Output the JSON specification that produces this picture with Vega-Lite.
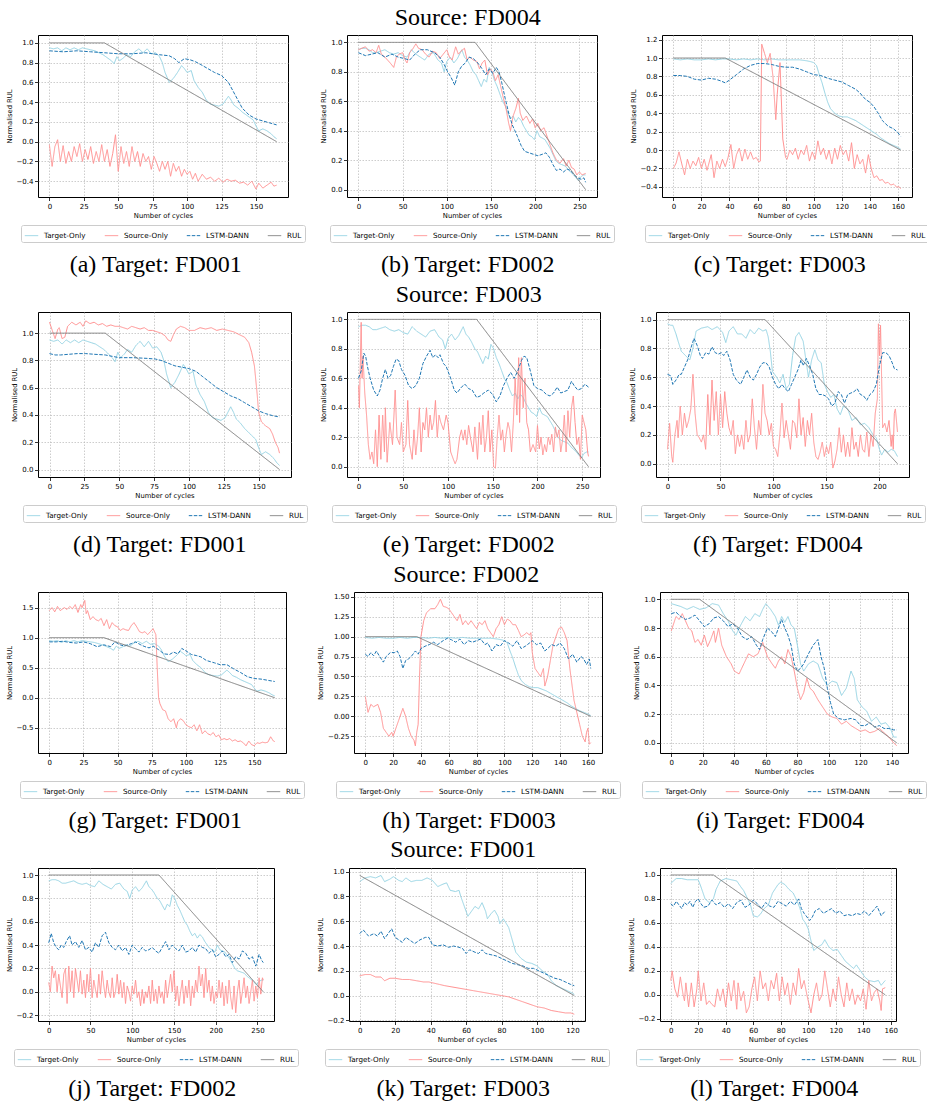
{
"$schema":"https://vega.github.io/schema/vega-lite/v6.json",
"background":"white",
"padding":5,
"config":{
"font":"DejaVu Sans",
"view":{"stroke":"#000000","strokeWidth":1},
"line":{"strokeWidth":1},
"axis":{"domain":false,"grid":true,"gridColor":"#b8b8b8","gridDash":[1.5,1.5],"gridWidth":0.7,"tickColor":"#000000","tickSize":3.5,"tickWidth":0.8,"labelFont":"DejaVu Sans","labelFontSize":7,"labelColor":"#000000","labelPadding":1.5,"labelOverlap":false,"labelFlush":false,"titleFont":"DejaVu Sans","titleFontSize":6.8,"titleFontWeight":"normal","titleColor":"#000000","titlePadding":3},
"axisY":{"titlePadding":4},
"legend":{"orient":"bottom","direction":"horizontal","symbolType":"stroke","symbolSize":180,"symbolStrokeWidth":1.2,"labelFont":"DejaVu Sans","labelFontSize":7.2,"labelColor":"#000000","columnPadding":16,"labelOffset":5,"padding":3,"strokeColor":"#cccccc","cornerRadius":2,"offset":6,"fillColor":"#ffffff","layout":{"bottom":{"anchor":"middle"}}},
"title":{"font":"Liberation Serif","fontSize":24,"fontWeight":"normal","color":"#000000","orient":"bottom","frame":"bounds","offset":10,"anchor":"middle"}
},
"datasets":{
"t1":[{"k":"a","x":0,"y":0.95},{"k":"a","x":3,"y":0.94},{"k":"a","x":6,"y":0.95},{"k":"a","x":9,"y":0.92},{"k":"a","x":12,"y":0.95},{"k":"a","x":15,"y":0.93},{"k":"a","x":18,"y":0.95},{"k":"a","x":21,"y":0.93},{"k":"a","x":24,"y":0.95},{"k":"a","x":27,"y":0.94},{"k":"a","x":30,"y":0.93},{"k":"a","x":33,"y":0.92},{"k":"a","x":36,"y":0.9},{"k":"a","x":39,"y":0.88},{"k":"a","x":42,"y":0.85},{"k":"a","x":45,"y":0.82},{"k":"a","x":47,"y":0.79},{"k":"a","x":49,"y":0.86},{"k":"a","x":51,"y":0.82},{"k":"a","x":54,"y":0.85},{"k":"a","x":56,"y":0.88},{"k":"a","x":59,"y":0.86},{"k":"a","x":62,"y":0.91},{"k":"a","x":65,"y":0.94},{"k":"a","x":68,"y":0.9},{"k":"a","x":71,"y":0.94},{"k":"a","x":74,"y":0.89},{"k":"a","x":77,"y":0.9},{"k":"a","x":80,"y":0.86},{"k":"a","x":82,"y":0.8},{"k":"a","x":84,"y":0.7},{"k":"a","x":87,"y":0.6},{"k":"a","x":90,"y":0.64},{"k":"a","x":93,"y":0.7},{"k":"a","x":96,"y":0.77},{"k":"a","x":98,"y":0.74},{"k":"a","x":100,"y":0.7},{"k":"a","x":103,"y":0.72},{"k":"a","x":105,"y":0.62},{"k":"a","x":108,"y":0.55},{"k":"a","x":111,"y":0.5},{"k":"a","x":114,"y":0.42},{"k":"a","x":117,"y":0.38},{"k":"a","x":120,"y":0.37},{"k":"a","x":123,"y":0.36},{"k":"a","x":126,"y":0.38},{"k":"a","x":128,"y":0.42},{"k":"a","x":130,"y":0.46},{"k":"a","x":132,"y":0.42},{"k":"a","x":134,"y":0.37},{"k":"a","x":137,"y":0.34},{"k":"a","x":140,"y":0.3},{"k":"a","x":143,"y":0.27},{"k":"a","x":146,"y":0.24},{"k":"a","x":148,"y":0.22},{"k":"a","x":150,"y":0.16},{"k":"a","x":152,"y":0.11},{"k":"a","x":155,"y":0.13},{"k":"a","x":158,"y":0.11},{"k":"a","x":161,"y":0.08},{"k":"a","x":163,"y":0.05},{"k":"a","x":165,"y":0.03}],
"t2":[{"k":"a","x":0,"y":0.95},{"k":"a","x":4,"y":0.96},{"k":"a","x":8,"y":0.96},{"k":"a","x":12,"y":0.95},{"k":"a","x":16,"y":0.93},{"k":"a","x":20,"y":0.93},{"k":"a","x":25,"y":0.94},{"k":"a","x":30,"y":0.95},{"k":"a","x":35,"y":0.93},{"k":"a","x":40,"y":0.92},{"k":"a","x":45,"y":0.93},{"k":"a","x":50,"y":0.91},{"k":"a","x":55,"y":0.9},{"k":"a","x":60,"y":0.95},{"k":"a","x":65,"y":0.92},{"k":"a","x":70,"y":0.9},{"k":"a","x":75,"y":0.88},{"k":"a","x":80,"y":0.92},{"k":"a","x":85,"y":0.93},{"k":"a","x":90,"y":0.88},{"k":"a","x":94,"y":0.86},{"k":"a","x":97,"y":0.8},{"k":"a","x":100,"y":0.87},{"k":"a","x":104,"y":0.9},{"k":"a","x":108,"y":0.86},{"k":"a","x":112,"y":0.89},{"k":"a","x":117,"y":0.95},{"k":"a","x":120,"y":0.9},{"k":"a","x":123,"y":0.88},{"k":"a","x":126,"y":0.85},{"k":"a","x":130,"y":0.8},{"k":"a","x":133,"y":0.78},{"k":"a","x":136,"y":0.74},{"k":"a","x":139,"y":0.7},{"k":"a","x":142,"y":0.75},{"k":"a","x":145,"y":0.73},{"k":"a","x":148,"y":0.83},{"k":"a","x":151,"y":0.8},{"k":"a","x":154,"y":0.74},{"k":"a","x":157,"y":0.7},{"k":"a","x":160,"y":0.65},{"k":"a","x":163,"y":0.6},{"k":"a","x":166,"y":0.57},{"k":"a","x":169,"y":0.52},{"k":"a","x":172,"y":0.48},{"k":"a","x":175,"y":0.5},{"k":"a","x":178,"y":0.46},{"k":"a","x":181,"y":0.49},{"k":"a","x":184,"y":0.47},{"k":"a","x":187,"y":0.43},{"k":"a","x":190,"y":0.4},{"k":"a","x":193,"y":0.37},{"k":"a","x":196,"y":0.36},{"k":"a","x":199,"y":0.34},{"k":"a","x":202,"y":0.4},{"k":"a","x":205,"y":0.36},{"k":"a","x":208,"y":0.35},{"k":"a","x":211,"y":0.34},{"k":"a","x":214,"y":0.31},{"k":"a","x":217,"y":0.28},{"k":"a","x":220,"y":0.24},{"k":"a","x":223,"y":0.2},{"k":"a","x":226,"y":0.18},{"k":"a","x":230,"y":0.17},{"k":"a","x":234,"y":0.16},{"k":"a","x":238,"y":0.13},{"k":"a","x":242,"y":0.11},{"k":"a","x":246,"y":0.08},{"k":"a","x":249,"y":0.06},{"k":"a","x":252,"y":0.09},{"k":"a","x":255,"y":0.1},{"k":"a","x":257,"y":0.1}],
"t3":[{"k":"a","x":0,"y":0.99},{"k":"a","x":5,"y":0.98},{"k":"a","x":10,"y":0.99},{"k":"a","x":15,"y":0.98},{"k":"a","x":20,"y":0.98},{"k":"a","x":25,"y":0.99},{"k":"a","x":30,"y":0.98},{"k":"a","x":35,"y":0.99},{"k":"a","x":40,"y":0.99},{"k":"a","x":45,"y":0.98},{"k":"a","x":50,"y":0.99},{"k":"a","x":55,"y":0.98},{"k":"a","x":60,"y":0.99},{"k":"a","x":65,"y":0.98},{"k":"a","x":70,"y":0.99},{"k":"a","x":75,"y":0.98},{"k":"a","x":80,"y":0.98},{"k":"a","x":85,"y":0.98},{"k":"a","x":90,"y":0.98},{"k":"a","x":95,"y":0.97},{"k":"a","x":98,"y":0.96},{"k":"a","x":100,"y":0.95},{"k":"a","x":102,"y":0.92},{"k":"a","x":104,"y":0.82},{"k":"a","x":106,"y":0.73},{"k":"a","x":108,"y":0.62},{"k":"a","x":110,"y":0.52},{"k":"a","x":112,"y":0.45},{"k":"a","x":115,"y":0.4},{"k":"a","x":118,"y":0.37},{"k":"a","x":121,"y":0.36},{"k":"a","x":124,"y":0.36},{"k":"a","x":127,"y":0.34},{"k":"a","x":130,"y":0.32},{"k":"a","x":133,"y":0.29},{"k":"a","x":136,"y":0.26},{"k":"a","x":139,"y":0.23},{"k":"a","x":142,"y":0.2},{"k":"a","x":145,"y":0.17},{"k":"a","x":148,"y":0.13},{"k":"a","x":151,"y":0.1},{"k":"a","x":154,"y":0.07},{"k":"a","x":157,"y":0.05},{"k":"a","x":160,"y":0.03},{"k":"a","x":162,"y":0.01}],
"pa":[{"k":"b","x":0,"y":-0.03},{"k":"b","x":2,"y":-0.25},{"k":"b","x":4,"y":-0.05},{"k":"b","x":6,"y":0.02},{"k":"b","x":8,"y":-0.2},{"k":"b","x":10,"y":-0.04},{"k":"b","x":12,"y":-0.22},{"k":"b","x":14,"y":-0.1},{"k":"b","x":16,"y":-0.2},{"k":"b","x":18,"y":-0.05},{"k":"b","x":20,"y":-0.15},{"k":"b","x":22,"y":-0.02},{"k":"b","x":24,"y":-0.2},{"k":"b","x":26,"y":-0.08},{"k":"b","x":28,"y":-0.18},{"k":"b","x":30,"y":-0.05},{"k":"b","x":32,"y":-0.22},{"k":"b","x":34,"y":-0.1},{"k":"b","x":36,"y":-0.2},{"k":"b","x":38,"y":-0.03},{"k":"b","x":40,"y":-0.2},{"k":"b","x":42,"y":-0.08},{"k":"b","x":44,"y":-0.25},{"k":"b","x":46,"y":-0.12},{"k":"b","x":48,"y":0.07},{"k":"b","x":50,"y":-0.3},{"k":"b","x":52,"y":-0.05},{"k":"b","x":54,"y":-0.22},{"k":"b","x":56,"y":-0.1},{"k":"b","x":58,"y":-0.25},{"k":"b","x":60,"y":-0.05},{"k":"b","x":62,"y":-0.2},{"k":"b","x":64,"y":-0.1},{"k":"b","x":66,"y":-0.25},{"k":"b","x":68,"y":-0.12},{"k":"b","x":70,"y":-0.2},{"k":"b","x":72,"y":-0.15},{"k":"b","x":74,"y":-0.28},{"k":"b","x":76,"y":-0.15},{"k":"b","x":78,"y":-0.22},{"k":"b","x":80,"y":-0.3},{"k":"b","x":82,"y":-0.2},{"k":"b","x":84,"y":-0.28},{"k":"b","x":86,"y":-0.2},{"k":"b","x":88,"y":-0.35},{"k":"b","x":90,"y":-0.22},{"k":"b","x":92,"y":-0.3},{"k":"b","x":94,"y":-0.25},{"k":"b","x":96,"y":-0.35},{"k":"b","x":98,"y":-0.28},{"k":"b","x":100,"y":-0.33},{"k":"b","x":102,"y":-0.3},{"k":"b","x":104,"y":-0.38},{"k":"b","x":106,"y":-0.32},{"k":"b","x":108,"y":-0.4},{"k":"b","x":111,"y":-0.33},{"k":"b","x":114,"y":-0.38},{"k":"b","x":117,"y":-0.36},{"k":"b","x":120,"y":-0.4},{"k":"b","x":123,"y":-0.37},{"k":"b","x":126,"y":-0.41},{"k":"b","x":129,"y":-0.38},{"k":"b","x":132,"y":-0.4},{"k":"b","x":135,"y":-0.39},{"k":"b","x":138,"y":-0.42},{"k":"b","x":141,"y":-0.41},{"k":"b","x":144,"y":-0.44},{"k":"b","x":147,"y":-0.4},{"k":"b","x":150,"y":-0.48},{"k":"b","x":152,"y":-0.42},{"k":"b","x":155,"y":-0.47},{"k":"b","x":158,"y":-0.44},{"k":"b","x":161,"y":-0.41},{"k":"b","x":163,"y":-0.45},{"k":"b","x":165,"y":-0.44},
{"k":"c","x":0,"y":0.92},{"k":"c","x":10,"y":0.91},{"k":"c","x":20,"y":0.92},{"k":"c","x":30,"y":0.91},{"k":"c","x":40,"y":0.9},{"k":"c","x":50,"y":0.89},{"k":"c","x":60,"y":0.89},{"k":"c","x":70,"y":0.9},{"k":"c","x":80,"y":0.88},{"k":"c","x":87,"y":0.87},{"k":"c","x":91,"y":0.84},{"k":"c","x":94,"y":0.8},{"k":"c","x":98,"y":0.84},{"k":"c","x":102,"y":0.83},{"k":"c","x":106,"y":0.81},{"k":"c","x":110,"y":0.78},{"k":"c","x":115,"y":0.74},{"k":"c","x":120,"y":0.7},{"k":"c","x":125,"y":0.67},{"k":"c","x":130,"y":0.6},{"k":"c","x":135,"y":0.47},{"k":"c","x":140,"y":0.34},{"k":"c","x":145,"y":0.27},{"k":"c","x":150,"y":0.23},{"k":"c","x":155,"y":0.21},{"k":"c","x":160,"y":0.19},{"k":"c","x":165,"y":0.17},
{"k":"d","x":0,"y":1},{"k":"d","x":40,"y":1},{"k":"d","x":165,"y":0}],
"pb":[{"k":"b","x":0,"y":0.95},{"k":"b","x":4,"y":0.96},{"k":"b","x":8,"y":0.97},{"k":"b","x":12,"y":0.94},{"k":"b","x":16,"y":0.95},{"k":"b","x":20,"y":0.93},{"k":"b","x":23,"y":0.98},{"k":"b","x":26,"y":0.92},{"k":"b","x":30,"y":0.9},{"k":"b","x":33,"y":0.88},{"k":"b","x":36,"y":0.86},{"k":"b","x":40,"y":0.83},{"k":"b","x":43,"y":0.9},{"k":"b","x":46,"y":0.92},{"k":"b","x":50,"y":0.93},{"k":"b","x":53,"y":0.88},{"k":"b","x":55,"y":0.86},{"k":"b","x":58,"y":0.93},{"k":"b","x":62,"y":0.96},{"k":"b","x":65,"y":0.99},{"k":"b","x":68,"y":0.96},{"k":"b","x":72,"y":0.95},{"k":"b","x":76,"y":0.92},{"k":"b","x":80,"y":0.9},{"k":"b","x":84,"y":0.94},{"k":"b","x":88,"y":0.93},{"k":"b","x":92,"y":0.89},{"k":"b","x":96,"y":0.92},{"k":"b","x":100,"y":0.95},{"k":"b","x":103,"y":0.9},{"k":"b","x":106,"y":0.88},{"k":"b","x":110,"y":0.97},{"k":"b","x":113,"y":0.92},{"k":"b","x":116,"y":0.94},{"k":"b","x":120,"y":0.96},{"k":"b","x":123,"y":0.88},{"k":"b","x":126,"y":0.9},{"k":"b","x":130,"y":0.88},{"k":"b","x":134,"y":0.87},{"k":"b","x":137,"y":0.82},{"k":"b","x":140,"y":0.86},{"k":"b","x":143,"y":0.88},{"k":"b","x":146,"y":0.78},{"k":"b","x":149,"y":0.82},{"k":"b","x":152,"y":0.8},{"k":"b","x":155,"y":0.74},{"k":"b","x":158,"y":0.78},{"k":"b","x":161,"y":0.7},{"k":"b","x":164,"y":0.62},{"k":"b","x":167,"y":0.55},{"k":"b","x":170,"y":0.45},{"k":"b","x":172,"y":0.4},{"k":"b","x":175,"y":0.5},{"k":"b","x":178,"y":0.55},{"k":"b","x":181,"y":0.62},{"k":"b","x":183,"y":0.52},{"k":"b","x":186,"y":0.47},{"k":"b","x":190,"y":0.5},{"k":"b","x":194,"y":0.45},{"k":"b","x":197,"y":0.48},{"k":"b","x":200,"y":0.42},{"k":"b","x":203,"y":0.45},{"k":"b","x":206,"y":0.4},{"k":"b","x":210,"y":0.42},{"k":"b","x":214,"y":0.35},{"k":"b","x":217,"y":0.3},{"k":"b","x":220,"y":0.25},{"k":"b","x":224,"y":0.2},{"k":"b","x":228,"y":0.18},{"k":"b","x":232,"y":0.21},{"k":"b","x":235,"y":0.16},{"k":"b","x":238,"y":0.2},{"k":"b","x":241,"y":0.15},{"k":"b","x":244,"y":0.14},{"k":"b","x":247,"y":0.1},{"k":"b","x":250,"y":0.12},{"k":"b","x":253,"y":0.1},{"k":"b","x":257,"y":0.11},
{"k":"c","x":0,"y":0.93},{"k":"c","x":8,"y":0.91},{"k":"c","x":15,"y":0.92},{"k":"c","x":22,"y":0.93},{"k":"c","x":30,"y":0.9},{"k":"c","x":38,"y":0.92},{"k":"c","x":45,"y":0.9},{"k":"c","x":52,"y":0.89},{"k":"c","x":58,"y":0.88},{"k":"c","x":64,"y":0.92},{"k":"c","x":70,"y":0.95},{"k":"c","x":78,"y":0.95},{"k":"c","x":86,"y":0.93},{"k":"c","x":92,"y":0.9},{"k":"c","x":97,"y":0.85},{"k":"c","x":101,"y":0.8},{"k":"c","x":105,"y":0.76},{"k":"c","x":109,"y":0.71},{"k":"c","x":113,"y":0.8},{"k":"c","x":117,"y":0.84},{"k":"c","x":121,"y":0.86},{"k":"c","x":125,"y":0.9},{"k":"c","x":130,"y":0.89},{"k":"c","x":135,"y":0.86},{"k":"c","x":140,"y":0.82},{"k":"c","x":144,"y":0.78},{"k":"c","x":148,"y":0.82},{"k":"c","x":152,"y":0.79},{"k":"c","x":156,"y":0.83},{"k":"c","x":159,"y":0.8},{"k":"c","x":162,"y":0.73},{"k":"c","x":166,"y":0.62},{"k":"c","x":170,"y":0.52},{"k":"c","x":174,"y":0.44},{"k":"c","x":177,"y":0.4},{"k":"c","x":180,"y":0.36},{"k":"c","x":184,"y":0.3},{"k":"c","x":188,"y":0.26},{"k":"c","x":193,"y":0.25},{"k":"c","x":198,"y":0.24},{"k":"c","x":203,"y":0.23},{"k":"c","x":208,"y":0.24},{"k":"c","x":212,"y":0.25},{"k":"c","x":216,"y":0.22},{"k":"c","x":220,"y":0.17},{"k":"c","x":224,"y":0.13},{"k":"c","x":228,"y":0.14},{"k":"c","x":232,"y":0.12},{"k":"c","x":236,"y":0.14},{"k":"c","x":240,"y":0.13},{"k":"c","x":244,"y":0.1},{"k":"c","x":248,"y":0.08},{"k":"c","x":252,"y":0.07},{"k":"c","x":255,"y":0.08},{"k":"c","x":257,"y":0.05},
{"k":"d","x":0,"y":1},{"k":"d","x":132,"y":1},{"k":"d","x":257,"y":0}],
"pc":[{"k":"b","x":0,"y":-0.2},{"k":"b","x":2,"y":-0.14},{"k":"b","x":4,"y":-0.02},{"k":"b","x":6,"y":-0.15},{"k":"b","x":8,"y":-0.27},{"k":"b","x":10,"y":-0.1},{"k":"b","x":12,"y":-0.2},{"k":"b","x":14,"y":-0.12},{"k":"b","x":16,"y":-0.17},{"k":"b","x":18,"y":-0.08},{"k":"b","x":20,"y":-0.2},{"k":"b","x":22,"y":-0.1},{"k":"b","x":24,"y":-0.22},{"k":"b","x":27,"y":-0.05},{"k":"b","x":29,"y":-0.3},{"k":"b","x":31,"y":-0.12},{"k":"b","x":33,"y":-0.2},{"k":"b","x":35,"y":-0.1},{"k":"b","x":37,"y":-0.18},{"k":"b","x":39,"y":-0.08},{"k":"b","x":41,"y":0.06},{"k":"b","x":43,"y":-0.2},{"k":"b","x":45,"y":-0.05},{"k":"b","x":47,"y":0.02},{"k":"b","x":49,"y":-0.12},{"k":"b","x":51,"y":0.01},{"k":"b","x":53,"y":-0.1},{"k":"b","x":55,"y":-0.02},{"k":"b","x":57,"y":-0.1},{"k":"b","x":59,"y":-0.08},{"k":"b","x":61,"y":-0.13},{"k":"b","x":62,"y":-0.12},{"k":"b","x":63,"y":1.15},{"k":"b","x":65,"y":1.05},{"k":"b","x":67,"y":0.95},{"k":"b","x":69,"y":1.05},{"k":"b","x":71,"y":0.8},{"k":"b","x":73,"y":0.33},{"k":"b","x":74,"y":0.6},{"k":"b","x":76,"y":0.95},{"k":"b","x":78,"y":0.12},{"k":"b","x":80,"y":-0.08},{"k":"b","x":81,"y":-0.1},{"k":"b","x":83,"y":0},{"k":"b","x":85,"y":-0.05},{"k":"b","x":87,"y":0.02},{"k":"b","x":89,"y":-0.1},{"k":"b","x":91,"y":0},{"k":"b","x":93,"y":-0.05},{"k":"b","x":95,"y":0.05},{"k":"b","x":97,"y":-0.12},{"k":"b","x":99,"y":-0.02},{"k":"b","x":101,"y":-0.1},{"k":"b","x":103,"y":0.1},{"k":"b","x":105,"y":-0.05},{"k":"b","x":107,"y":0.02},{"k":"b","x":109,"y":-0.1},{"k":"b","x":111,"y":0},{"k":"b","x":113,"y":-0.15},{"k":"b","x":115,"y":0.02},{"k":"b","x":117,"y":-0.1},{"k":"b","x":119,"y":0.05},{"k":"b","x":121,"y":-0.05},{"k":"b","x":123,"y":0},{"k":"b","x":125,"y":-0.12},{"k":"b","x":127,"y":0.08},{"k":"b","x":129,"y":-0.2},{"k":"b","x":131,"y":-0.05},{"k":"b","x":133,"y":-0.15},{"k":"b","x":135,"y":-0.1},{"k":"b","x":137,"y":-0.25},{"k":"b","x":139,"y":-0.05},{"k":"b","x":141,"y":-0.2},{"k":"b","x":143,"y":-0.3},{"k":"b","x":145,"y":-0.28},{"k":"b","x":147,"y":-0.33},{"k":"b","x":149,"y":-0.32},{"k":"b","x":151,"y":-0.36},{"k":"b","x":153,"y":-0.35},{"k":"b","x":155,"y":-0.38},{"k":"b","x":157,"y":-0.37},{"k":"b","x":159,"y":-0.4},{"k":"b","x":161,"y":-0.4},{"k":"b","x":162,"y":-0.42},
{"k":"c","x":0,"y":0.81},{"k":"c","x":5,"y":0.81},{"k":"c","x":10,"y":0.8},{"k":"c","x":15,"y":0.77},{"k":"c","x":20,"y":0.76},{"k":"c","x":25,"y":0.78},{"k":"c","x":30,"y":0.77},{"k":"c","x":34,"y":0.75},{"k":"c","x":37,"y":0.73},{"k":"c","x":40,"y":0.76},{"k":"c","x":45,"y":0.82},{"k":"c","x":50,"y":0.88},{"k":"c","x":55,"y":0.92},{"k":"c","x":60,"y":0.94},{"k":"c","x":65,"y":0.94},{"k":"c","x":70,"y":0.93},{"k":"c","x":75,"y":0.91},{"k":"c","x":80,"y":0.9},{"k":"c","x":85,"y":0.9},{"k":"c","x":90,"y":0.88},{"k":"c","x":95,"y":0.85},{"k":"c","x":100,"y":0.82},{"k":"c","x":105,"y":0.81},{"k":"c","x":110,"y":0.78},{"k":"c","x":115,"y":0.76},{"k":"c","x":120,"y":0.74},{"k":"c","x":125,"y":0.7},{"k":"c","x":130,"y":0.66},{"k":"c","x":133,"y":0.62},{"k":"c","x":137,"y":0.55},{"k":"c","x":140,"y":0.52},{"k":"c","x":143,"y":0.47},{"k":"c","x":146,"y":0.4},{"k":"c","x":149,"y":0.32},{"k":"c","x":153,"y":0.26},{"k":"c","x":157,"y":0.23},{"k":"c","x":160,"y":0.19},{"k":"c","x":162,"y":0.15},
{"k":"d","x":0,"y":1},{"k":"d","x":37,"y":1},{"k":"d","x":162,"y":0}],
"pd":[{"k":"b","x":0,"y":1.08},{"k":"b","x":2,"y":1.02},{"k":"b","x":4,"y":0.96},{"k":"b","x":6,"y":1.03},{"k":"b","x":7,"y":1.04},{"k":"b","x":9,"y":0.96},{"k":"b","x":11,"y":0.97},{"k":"b","x":13,"y":1.05},{"k":"b","x":16,"y":1.08},{"k":"b","x":19,"y":1.06},{"k":"b","x":22,"y":1.08},{"k":"b","x":24,"y":1.05},{"k":"b","x":26,"y":1.09},{"k":"b","x":29,"y":1.07},{"k":"b","x":32,"y":1.08},{"k":"b","x":35,"y":1.06},{"k":"b","x":38,"y":1.07},{"k":"b","x":41,"y":1.05},{"k":"b","x":44,"y":1.06},{"k":"b","x":47,"y":1.05},{"k":"b","x":50,"y":1.05},{"k":"b","x":53,"y":1.04},{"k":"b","x":56,"y":1.03},{"k":"b","x":59,"y":1.05},{"k":"b","x":62,"y":1.04},{"k":"b","x":65,"y":1.03},{"k":"b","x":68,"y":1.04},{"k":"b","x":71,"y":1.02},{"k":"b","x":74,"y":1.02},{"k":"b","x":77,"y":1.01},{"k":"b","x":80,"y":1},{"k":"b","x":83,"y":0.98},{"k":"b","x":85,"y":0.95},{"k":"b","x":87,"y":0.94},{"k":"b","x":89,"y":0.99},{"k":"b","x":91,"y":1.03},{"k":"b","x":94,"y":1.05},{"k":"b","x":97,"y":1.04},{"k":"b","x":100,"y":1.02},{"k":"b","x":104,"y":1.02},{"k":"b","x":108,"y":1.04},{"k":"b","x":112,"y":1.03},{"k":"b","x":116,"y":1.04},{"k":"b","x":120,"y":1.02},{"k":"b","x":124,"y":1.03},{"k":"b","x":128,"y":1.02},{"k":"b","x":132,"y":1.01},{"k":"b","x":136,"y":0.99},{"k":"b","x":140,"y":0.97},{"k":"b","x":143,"y":0.93},{"k":"b","x":145,"y":0.86},{"k":"b","x":147,"y":0.76},{"k":"b","x":149,"y":0.55},{"k":"b","x":150,"y":0.42},{"k":"b","x":152,"y":0.35},{"k":"b","x":155,"y":0.32},{"k":"b","x":158,"y":0.3},{"k":"b","x":160,"y":0.26},{"k":"b","x":162,"y":0.2},{"k":"b","x":164,"y":0.16},{"k":"b","x":165,"y":0.12},
{"k":"c","x":0,"y":0.85},{"k":"c","x":4,"y":0.84},{"k":"c","x":8,"y":0.84},{"k":"c","x":14,"y":0.845},{"k":"c","x":20,"y":0.85},{"k":"c","x":26,"y":0.85},{"k":"c","x":32,"y":0.845},{"k":"c","x":40,"y":0.84},{"k":"c","x":45,"y":0.83},{"k":"c","x":50,"y":0.82},{"k":"c","x":60,"y":0.82},{"k":"c","x":70,"y":0.815},{"k":"c","x":76,"y":0.81},{"k":"c","x":80,"y":0.8},{"k":"c","x":85,"y":0.78},{"k":"c","x":90,"y":0.76},{"k":"c","x":95,"y":0.75},{"k":"c","x":100,"y":0.74},{"k":"c","x":105,"y":0.72},{"k":"c","x":110,"y":0.68},{"k":"c","x":115,"y":0.64},{"k":"c","x":120,"y":0.6},{"k":"c","x":125,"y":0.57},{"k":"c","x":130,"y":0.54},{"k":"c","x":135,"y":0.52},{"k":"c","x":140,"y":0.49},{"k":"c","x":145,"y":0.46},{"k":"c","x":150,"y":0.43},{"k":"c","x":155,"y":0.41},{"k":"c","x":160,"y":0.395},{"k":"c","x":165,"y":0.385},
{"k":"d","x":0,"y":1},{"k":"d","x":40,"y":1},{"k":"d","x":165,"y":0}],
"pe":[{"k":"b","x":0,"y":0.55},{"k":"b","x":1,"y":0.4},{"k":"b","x":3,"y":0.98},{"k":"b","x":4,"y":0.6},{"k":"b","x":5,"y":0.75},{"k":"b","x":7,"y":0.5},{"k":"b","x":9,"y":0.35},{"k":"b","x":11,"y":0.15},{"k":"b","x":13,"y":0.05},{"k":"b","x":15,"y":0.1},{"k":"b","x":17,"y":0.02},{"k":"b","x":19,"y":0.25},{"k":"b","x":21,"y":0},{"k":"b","x":23,"y":0.35},{"k":"b","x":25,"y":0.05},{"k":"b","x":27,"y":0.35},{"k":"b","x":29,"y":0.1},{"k":"b","x":30,"y":0.4},{"k":"b","x":32,"y":0.03},{"k":"b","x":35,"y":0.3},{"k":"b","x":38,"y":0.15},{"k":"b","x":41,"y":0.52},{"k":"b","x":43,"y":0.2},{"k":"b","x":46,"y":0.15},{"k":"b","x":48,"y":0.3},{"k":"b","x":50,"y":0.1},{"k":"b","x":53,"y":0.15},{"k":"b","x":55,"y":0.45},{"k":"b","x":57,"y":0.15},{"k":"b","x":60,"y":0.05},{"k":"b","x":62,"y":0.25},{"k":"b","x":64,"y":0.08},{"k":"b","x":66,"y":0.2},{"k":"b","x":68,"y":0.4},{"k":"b","x":70,"y":0.1},{"k":"b","x":72,"y":0.3},{"k":"b","x":74,"y":0.25},{"k":"b","x":76,"y":0.4},{"k":"b","x":78,"y":0.2},{"k":"b","x":80,"y":0.35},{"k":"b","x":82,"y":0.25},{"k":"b","x":84,"y":0.3},{"k":"b","x":86,"y":0.45},{"k":"b","x":88,"y":0.2},{"k":"b","x":90,"y":0.35},{"k":"b","x":92,"y":0.3},{"k":"b","x":95,"y":0.25},{"k":"b","x":98,"y":0.35},{"k":"b","x":100,"y":0.3},{"k":"b","x":103,"y":0.1},{"k":"b","x":106,"y":0.05},{"k":"b","x":108,"y":0.02},{"k":"b","x":110,"y":0.05},{"k":"b","x":113,"y":0.2},{"k":"b","x":115,"y":0.25},{"k":"b","x":117,"y":0.18},{"k":"b","x":119,"y":0.25},{"k":"b","x":121,"y":0.15},{"k":"b","x":123,"y":0.28},{"k":"b","x":125,"y":0.2},{"k":"b","x":128,"y":0.1},{"k":"b","x":130,"y":0.27},{"k":"b","x":133,"y":0.05},{"k":"b","x":135,"y":0.3},{"k":"b","x":137,"y":0.15},{"k":"b","x":139,"y":0.35},{"k":"b","x":141,"y":0.1},{"k":"b","x":143,"y":0.2},{"k":"b","x":145,"y":0.38},{"k":"b","x":147,"y":0.1},{"k":"b","x":149,"y":0.25},{"k":"b","x":151,"y":0},{"k":"b","x":153,"y":-0.01},{"k":"b","x":155,"y":0.2},{"k":"b","x":157,"y":0.35},{"k":"b","x":159,"y":0.18},{"k":"b","x":161,"y":0.25},{"k":"b","x":163,"y":0.1},{"k":"b","x":165,"y":0.22},{"k":"b","x":167,"y":0.3},{"k":"b","x":169,"y":0.25},{"k":"b","x":171,"y":0.1},{"k":"b","x":173,"y":0.3},{"k":"b","x":175,"y":0.6},{"k":"b","x":177,"y":0.35},{"k":"b","x":179,"y":0.74},{"k":"b","x":180,"y":0.3},{"k":"b","x":182,"y":0.74},{"k":"b","x":184,"y":0.4},{"k":"b","x":186,"y":0.6},{"k":"b","x":188,"y":0.3},{"k":"b","x":190,"y":0.25},{"k":"b","x":192,"y":0.1},{"k":"b","x":195,"y":0.15},{"k":"b","x":198,"y":0.1},{"k":"b","x":200,"y":0.28},{"k":"b","x":202,"y":0.12},{"k":"b","x":204,"y":0.2},{"k":"b","x":206,"y":0.08},{"k":"b","x":208,"y":0.15},{"k":"b","x":210,"y":0.1},{"k":"b","x":212,"y":0.2},{"k":"b","x":214,"y":0.15},{"k":"b","x":216,"y":0.22},{"k":"b","x":218,"y":0.1},{"k":"b","x":220,"y":0.27},{"k":"b","x":222,"y":0.2},{"k":"b","x":224,"y":0.25},{"k":"b","x":226,"y":0.1},{"k":"b","x":228,"y":0.18},{"k":"b","x":230,"y":0.35},{"k":"b","x":232,"y":0.1},{"k":"b","x":234,"y":0.38},{"k":"b","x":236,"y":0.2},{"k":"b","x":238,"y":0.4},{"k":"b","x":240,"y":0.48},{"k":"b","x":242,"y":0.3},{"k":"b","x":244,"y":0.15},{"k":"b","x":246,"y":0.2},{"k":"b","x":248,"y":0.05},{"k":"b","x":250,"y":0.35},{"k":"b","x":252,"y":0.3},{"k":"b","x":254,"y":0.25},{"k":"b","x":256,"y":0.1},{"k":"b","x":257,"y":0.07},
{"k":"c","x":0,"y":0.6},{"k":"c","x":3,"y":0.65},{"k":"c","x":6,"y":0.77},{"k":"c","x":8,"y":0.75},{"k":"c","x":10,"y":0.68},{"k":"c","x":13,"y":0.6},{"k":"c","x":17,"y":0.52},{"k":"c","x":21,"y":0.48},{"k":"c","x":24,"y":0.52},{"k":"c","x":27,"y":0.6},{"k":"c","x":30,"y":0.66},{"k":"c","x":33,"y":0.6},{"k":"c","x":36,"y":0.62},{"k":"c","x":39,"y":0.68},{"k":"c","x":42,"y":0.73},{"k":"c","x":45,"y":0.72},{"k":"c","x":48,"y":0.66},{"k":"c","x":52,"y":0.62},{"k":"c","x":56,"y":0.55},{"k":"c","x":60,"y":0.53},{"k":"c","x":64,"y":0.55},{"k":"c","x":68,"y":0.6},{"k":"c","x":72,"y":0.7},{"k":"c","x":76,"y":0.75},{"k":"c","x":80,"y":0.79},{"k":"c","x":83,"y":0.74},{"k":"c","x":86,"y":0.76},{"k":"c","x":89,"y":0.74},{"k":"c","x":91,"y":0.76},{"k":"c","x":95,"y":0.7},{"k":"c","x":98,"y":0.68},{"k":"c","x":103,"y":0.6},{"k":"c","x":107,"y":0.52},{"k":"c","x":110,"y":0.5},{"k":"c","x":115,"y":0.54},{"k":"c","x":119,"y":0.56},{"k":"c","x":123,"y":0.53},{"k":"c","x":127,"y":0.52},{"k":"c","x":132,"y":0.47},{"k":"c","x":136,"y":0.48},{"k":"c","x":140,"y":0.5},{"k":"c","x":145,"y":0.52},{"k":"c","x":150,"y":0.49},{"k":"c","x":154,"y":0.44},{"k":"c","x":158,"y":0.48},{"k":"c","x":162,"y":0.55},{"k":"c","x":166,"y":0.6},{"k":"c","x":170,"y":0.64},{"k":"c","x":174,"y":0.6},{"k":"c","x":178,"y":0.65},{"k":"c","x":182,"y":0.72},{"k":"c","x":185,"y":0.75},{"k":"c","x":188,"y":0.74},{"k":"c","x":192,"y":0.65},{"k":"c","x":196,"y":0.55},{"k":"c","x":200,"y":0.53},{"k":"c","x":205,"y":0.52},{"k":"c","x":210,"y":0.49},{"k":"c","x":214,"y":0.48},{"k":"c","x":218,"y":0.5},{"k":"c","x":222,"y":0.54},{"k":"c","x":226,"y":0.5},{"k":"c","x":230,"y":0.51},{"k":"c","x":234,"y":0.52},{"k":"c","x":238,"y":0.58},{"k":"c","x":241,"y":0.55},{"k":"c","x":245,"y":0.52},{"k":"c","x":249,"y":0.53},{"k":"c","x":253,"y":0.56},{"k":"c","x":257,"y":0.54},
{"k":"d","x":0,"y":1},{"k":"d","x":132,"y":1},{"k":"d","x":257,"y":0}],
"pf":[{"k":"a","x":0,"y":0.97},{"k":"a","x":3,"y":0.96},{"k":"a","x":5,"y":0.96},{"k":"a","x":8,"y":0.9},{"k":"a","x":10,"y":0.85},{"k":"a","x":13,"y":0.78},{"k":"a","x":17,"y":0.75},{"k":"a","x":21,"y":0.72},{"k":"a","x":24,"y":0.8},{"k":"a","x":27,"y":0.92},{"k":"a","x":32,"y":0.94},{"k":"a","x":38,"y":0.95},{"k":"a","x":42,"y":0.93},{"k":"a","x":47,"y":0.95},{"k":"a","x":52,"y":0.91},{"k":"a","x":55,"y":0.84},{"k":"a","x":58,"y":0.92},{"k":"a","x":62,"y":0.95},{"k":"a","x":66,"y":0.9},{"k":"a","x":70,"y":0.9},{"k":"a","x":74,"y":0.87},{"k":"a","x":78,"y":0.93},{"k":"a","x":82,"y":0.9},{"k":"a","x":86,"y":0.94},{"k":"a","x":90,"y":0.92},{"k":"a","x":93,"y":0.93},{"k":"a","x":95,"y":0.88},{"k":"a","x":97,"y":0.78},{"k":"a","x":99,"y":0.64},{"k":"a","x":103,"y":0.6},{"k":"a","x":106,"y":0.56},{"k":"a","x":109,"y":0.62},{"k":"a","x":112,"y":0.52},{"k":"a","x":115,"y":0.55},{"k":"a","x":118,"y":0.75},{"k":"a","x":121,"y":0.88},{"k":"a","x":124,"y":0.91},{"k":"a","x":128,"y":0.85},{"k":"a","x":131,"y":0.7},{"k":"a","x":133,"y":0.6},{"k":"a","x":136,"y":0.72},{"k":"a","x":139,"y":0.79},{"k":"a","x":142,"y":0.72},{"k":"a","x":145,"y":0.7},{"k":"a","x":148,"y":0.55},{"k":"a","x":151,"y":0.5},{"k":"a","x":154,"y":0.46},{"k":"a","x":157,"y":0.48},{"k":"a","x":160,"y":0.38},{"k":"a","x":163,"y":0.34},{"k":"a","x":166,"y":0.4},{"k":"a","x":170,"y":0.38},{"k":"a","x":174,"y":0.3},{"k":"a","x":178,"y":0.32},{"k":"a","x":182,"y":0.27},{"k":"a","x":186,"y":0.28},{"k":"a","x":190,"y":0.25},{"k":"a","x":194,"y":0.2},{"k":"a","x":197,"y":0.18},{"k":"a","x":200,"y":0.1},{"k":"a","x":202,"y":0.06},{"k":"a","x":205,"y":0.1},{"k":"a","x":208,"y":0.08},{"k":"a","x":211,"y":0.1},{"k":"a","x":214,"y":0.09},{"k":"a","x":217,"y":0.05},
{"k":"b","x":0,"y":0.1},{"k":"b","x":2,"y":0.28},{"k":"b","x":4,"y":0.05},{"k":"b","x":5,"y":0.01},{"k":"b","x":7,"y":0.2},{"k":"b","x":9,"y":0.3},{"k":"b","x":10,"y":0.18},{"k":"b","x":12,"y":0.4},{"k":"b","x":14,"y":0.2},{"k":"b","x":16,"y":0.35},{"k":"b","x":18,"y":0.25},{"k":"b","x":20,"y":0.3},{"k":"b","x":22,"y":0.38},{"k":"b","x":24,"y":0.62},{"k":"b","x":26,"y":0.35},{"k":"b","x":28,"y":0.2},{"k":"b","x":30,"y":0.18},{"k":"b","x":32,"y":0.15},{"k":"b","x":34,"y":0.2},{"k":"b","x":36,"y":0.1},{"k":"b","x":38,"y":0.48},{"k":"b","x":40,"y":0.2},{"k":"b","x":42,"y":0.58},{"k":"b","x":44,"y":0.3},{"k":"b","x":46,"y":0.5},{"k":"b","x":48,"y":0.2},{"k":"b","x":50,"y":0.48},{"k":"b","x":52,"y":0.25},{"k":"b","x":54,"y":0.5},{"k":"b","x":56,"y":0.35},{"k":"b","x":58,"y":0.25},{"k":"b","x":60,"y":0.2},{"k":"b","x":62,"y":0.3},{"k":"b","x":64,"y":0.07},{"k":"b","x":66,"y":0.2},{"k":"b","x":68,"y":0.12},{"k":"b","x":70,"y":0.2},{"k":"b","x":72,"y":0.1},{"k":"b","x":74,"y":0.3},{"k":"b","x":76,"y":0.15},{"k":"b","x":78,"y":0.2},{"k":"b","x":80,"y":0.45},{"k":"b","x":82,"y":0.25},{"k":"b","x":84,"y":0.1},{"k":"b","x":86,"y":0.3},{"k":"b","x":88,"y":0.2},{"k":"b","x":90,"y":0.55},{"k":"b","x":92,"y":0.35},{"k":"b","x":94,"y":0.3},{"k":"b","x":96,"y":0.2},{"k":"b","x":98,"y":0.28},{"k":"b","x":100,"y":0.12},{"k":"b","x":102,"y":0.1},{"k":"b","x":104,"y":0.05},{"k":"b","x":106,"y":0.2},{"k":"b","x":108,"y":0.42},{"k":"b","x":110,"y":0.18},{"k":"b","x":112,"y":0.3},{"k":"b","x":114,"y":0.2},{"k":"b","x":116,"y":0.1},{"k":"b","x":118,"y":0.3},{"k":"b","x":120,"y":0.28},{"k":"b","x":122,"y":0.18},{"k":"b","x":124,"y":0.45},{"k":"b","x":126,"y":0.2},{"k":"b","x":128,"y":0.32},{"k":"b","x":130,"y":0.12},{"k":"b","x":132,"y":0.3},{"k":"b","x":134,"y":0.2},{"k":"b","x":136,"y":0.35},{"k":"b","x":138,"y":0.15},{"k":"b","x":140,"y":0.05},{"k":"b","x":142,"y":0.03},{"k":"b","x":144,"y":0.08},{"k":"b","x":146,"y":0.15},{"k":"b","x":148,"y":0.05},{"k":"b","x":150,"y":0.12},{"k":"b","x":152,"y":0.07},{"k":"b","x":154,"y":0.15},{"k":"b","x":156,"y":-0.03},{"k":"b","x":158,"y":0.02},{"k":"b","x":160,"y":0.1},{"k":"b","x":162,"y":0.25},{"k":"b","x":164,"y":0.08},{"k":"b","x":166,"y":0.2},{"k":"b","x":168,"y":0.05},{"k":"b","x":170,"y":0.15},{"k":"b","x":172,"y":0.05},{"k":"b","x":174,"y":0.25},{"k":"b","x":176,"y":0.1},{"k":"b","x":178,"y":0.15},{"k":"b","x":180,"y":0.05},{"k":"b","x":182,"y":0.2},{"k":"b","x":184,"y":0.1},{"k":"b","x":186,"y":0.08},{"k":"b","x":188,"y":0.22},{"k":"b","x":190,"y":0.05},{"k":"b","x":192,"y":0.2},{"k":"b","x":194,"y":0.12},{"k":"b","x":196,"y":0.35},{"k":"b","x":198,"y":0.45},{"k":"b","x":199,"y":0.97},{"k":"b","x":200,"y":0.75},{"k":"b","x":201,"y":0.96},{"k":"b","x":202,"y":0.6},{"k":"b","x":203,"y":0.25},{"k":"b","x":205,"y":0.28},{"k":"b","x":207,"y":0.22},{"k":"b","x":209,"y":0.3},{"k":"b","x":211,"y":0.12},{"k":"b","x":212,"y":0.2},{"k":"b","x":213,"y":0.1},{"k":"b","x":214,"y":0.35},{"k":"b","x":215,"y":0.38},{"k":"b","x":217,"y":0.22},
{"k":"c","x":0,"y":0.62},{"k":"c","x":3,"y":0.61},{"k":"c","x":5,"y":0.55},{"k":"c","x":8,"y":0.58},{"k":"c","x":11,"y":0.62},{"k":"c","x":13,"y":0.62},{"k":"c","x":16,"y":0.67},{"k":"c","x":19,"y":0.72},{"k":"c","x":22,"y":0.8},{"k":"c","x":25,"y":0.87},{"k":"c","x":28,"y":0.82},{"k":"c","x":31,"y":0.75},{"k":"c","x":33,"y":0.73},{"k":"c","x":36,"y":0.77},{"k":"c","x":39,"y":0.76},{"k":"c","x":42,"y":0.81},{"k":"c","x":45,"y":0.77},{"k":"c","x":48,"y":0.76},{"k":"c","x":51,"y":0.77},{"k":"c","x":53,"y":0.75},{"k":"c","x":56,"y":0.78},{"k":"c","x":59,"y":0.72},{"k":"c","x":62,"y":0.62},{"k":"c","x":65,"y":0.58},{"k":"c","x":69,"y":0.55},{"k":"c","x":72,"y":0.6},{"k":"c","x":75,"y":0.65},{"k":"c","x":78,"y":0.6},{"k":"c","x":81,"y":0.58},{"k":"c","x":84,"y":0.62},{"k":"c","x":87,"y":0.67},{"k":"c","x":90,"y":0.7},{"k":"c","x":93,"y":0.7},{"k":"c","x":96,"y":0.67},{"k":"c","x":99,"y":0.6},{"k":"c","x":102,"y":0.55},{"k":"c","x":105,"y":0.52},{"k":"c","x":108,"y":0.55},{"k":"c","x":111,"y":0.52},{"k":"c","x":114,"y":0.5},{"k":"c","x":117,"y":0.55},{"k":"c","x":120,"y":0.6},{"k":"c","x":123,"y":0.65},{"k":"c","x":126,"y":0.72},{"k":"c","x":128,"y":0.68},{"k":"c","x":131,"y":0.73},{"k":"c","x":134,"y":0.68},{"k":"c","x":137,"y":0.62},{"k":"c","x":140,"y":0.52},{"k":"c","x":143,"y":0.48},{"k":"c","x":146,"y":0.48},{"k":"c","x":149,"y":0.47},{"k":"c","x":152,"y":0.45},{"k":"c","x":155,"y":0.4},{"k":"c","x":158,"y":0.42},{"k":"c","x":161,"y":0.5},{"k":"c","x":164,"y":0.48},{"k":"c","x":167,"y":0.42},{"k":"c","x":170,"y":0.48},{"k":"c","x":173,"y":0.49},{"k":"c","x":176,"y":0.5},{"k":"c","x":179,"y":0.52},{"k":"c","x":182,"y":0.48},{"k":"c","x":185,"y":0.47},{"k":"c","x":188,"y":0.44},{"k":"c","x":191,"y":0.48},{"k":"c","x":194,"y":0.5},{"k":"c","x":197,"y":0.55},{"k":"c","x":200,"y":0.68},{"k":"c","x":203,"y":0.77},{"k":"c","x":206,"y":0.77},{"k":"c","x":209,"y":0.75},{"k":"c","x":212,"y":0.7},{"k":"c","x":214,"y":0.66},{"k":"c","x":217,"y":0.65},
{"k":"d","x":0,"y":1},{"k":"d","x":92,"y":1},{"k":"d","x":217,"y":0}],
"pg":[{"k":"b","x":0,"y":1.45},{"k":"b","x":2,"y":1.5},{"k":"b","x":4,"y":1.43},{"k":"b","x":6,"y":1.52},{"k":"b","x":8,"y":1.45},{"k":"b","x":11,"y":1.5},{"k":"b","x":13,"y":1.47},{"k":"b","x":15,"y":1.52},{"k":"b","x":17,"y":1.48},{"k":"b","x":19,"y":1.55},{"k":"b","x":21,"y":1.42},{"k":"b","x":23,"y":1.55},{"k":"b","x":24,"y":1.5},{"k":"b","x":26,"y":1.62},{"k":"b","x":27,"y":1.4},{"k":"b","x":28,"y":1.45},{"k":"b","x":30,"y":1.3},{"k":"b","x":32,"y":1.35},{"k":"b","x":34,"y":1.3},{"k":"b","x":36,"y":1.28},{"k":"b","x":38,"y":1.32},{"k":"b","x":40,"y":1.2},{"k":"b","x":42,"y":1.3},{"k":"b","x":44,"y":1.15},{"k":"b","x":46,"y":1.25},{"k":"b","x":48,"y":1.2},{"k":"b","x":50,"y":1.18},{"k":"b","x":52,"y":1.12},{"k":"b","x":54,"y":1.15},{"k":"b","x":56,"y":1.13},{"k":"b","x":58,"y":1.12},{"k":"b","x":60,"y":1.2},{"k":"b","x":62,"y":1.25},{"k":"b","x":64,"y":1.18},{"k":"b","x":66,"y":1.1},{"k":"b","x":68,"y":1.08},{"k":"b","x":70,"y":1.1},{"k":"b","x":72,"y":1.05},{"k":"b","x":74,"y":1.1},{"k":"b","x":76,"y":1.15},{"k":"b","x":78,"y":1.05},{"k":"b","x":79,"y":0.5},{"k":"b","x":80,"y":0},{"k":"b","x":81,"y":-0.1},{"k":"b","x":83,"y":-0.2},{"k":"b","x":85,"y":-0.22},{"k":"b","x":87,"y":-0.35},{"k":"b","x":89,"y":-0.4},{"k":"b","x":91,"y":-0.35},{"k":"b","x":93,"y":-0.5},{"k":"b","x":94,"y":-0.4},{"k":"b","x":96,"y":-0.35},{"k":"b","x":98,"y":-0.38},{"k":"b","x":100,"y":-0.45},{"k":"b","x":102,"y":-0.48},{"k":"b","x":104,"y":-0.5},{"k":"b","x":106,"y":-0.45},{"k":"b","x":108,"y":-0.55},{"k":"b","x":110,"y":-0.45},{"k":"b","x":112,"y":-0.6},{"k":"b","x":114,"y":-0.55},{"k":"b","x":116,"y":-0.6},{"k":"b","x":118,"y":-0.62},{"k":"b","x":120,"y":-0.58},{"k":"b","x":122,"y":-0.65},{"k":"b","x":124,"y":-0.62},{"k":"b","x":126,"y":-0.7},{"k":"b","x":128,"y":-0.68},{"k":"b","x":130,"y":-0.7},{"k":"b","x":132,"y":-0.68},{"k":"b","x":134,"y":-0.72},{"k":"b","x":136,"y":-0.7},{"k":"b","x":138,"y":-0.73},{"k":"b","x":140,"y":-0.72},{"k":"b","x":142,"y":-0.75},{"k":"b","x":144,"y":-0.8},{"k":"b","x":146,"y":-0.72},{"k":"b","x":148,"y":-0.78},{"k":"b","x":150,"y":-0.8},{"k":"b","x":152,"y":-0.75},{"k":"b","x":154,"y":-0.76},{"k":"b","x":156,"y":-0.74},{"k":"b","x":158,"y":-0.75},{"k":"b","x":160,"y":-0.74},{"k":"b","x":162,"y":-0.65},{"k":"b","x":164,"y":-0.72},{"k":"b","x":165,"y":-0.73},
{"k":"c","x":0,"y":0.93},{"k":"c","x":5,"y":0.93},{"k":"c","x":10,"y":0.94},{"k":"c","x":15,"y":0.92},{"k":"c","x":20,"y":0.91},{"k":"c","x":25,"y":0.93},{"k":"c","x":30,"y":0.9},{"k":"c","x":35,"y":0.85},{"k":"c","x":40,"y":0.88},{"k":"c","x":45,"y":0.85},{"k":"c","x":48,"y":0.93},{"k":"c","x":52,"y":0.88},{"k":"c","x":55,"y":0.86},{"k":"c","x":60,"y":0.9},{"k":"c","x":63,"y":0.93},{"k":"c","x":67,"y":0.88},{"k":"c","x":70,"y":0.85},{"k":"c","x":73,"y":0.83},{"k":"c","x":76,"y":0.86},{"k":"c","x":80,"y":0.8},{"k":"c","x":84,"y":0.73},{"k":"c","x":88,"y":0.72},{"k":"c","x":91,"y":0.76},{"k":"c","x":94,"y":0.73},{"k":"c","x":97,"y":0.82},{"k":"c","x":100,"y":0.78},{"k":"c","x":104,"y":0.72},{"k":"c","x":108,"y":0.7},{"k":"c","x":111,"y":0.68},{"k":"c","x":115,"y":0.62},{"k":"c","x":118,"y":0.6},{"k":"c","x":121,"y":0.58},{"k":"c","x":125,"y":0.55},{"k":"c","x":130,"y":0.55},{"k":"c","x":135,"y":0.48},{"k":"c","x":140,"y":0.42},{"k":"c","x":145,"y":0.35},{"k":"c","x":150,"y":0.32},{"k":"c","x":155,"y":0.31},{"k":"c","x":160,"y":0.29},{"k":"c","x":165,"y":0.27},
{"k":"d","x":0,"y":1},{"k":"d","x":40,"y":1},{"k":"d","x":165,"y":0}],
"ph":[{"k":"b","x":0,"y":0.25},{"k":"b","x":2,"y":0.05},{"k":"b","x":4,"y":0.15},{"k":"b","x":6,"y":0.12},{"k":"b","x":9,"y":0.15},{"k":"b","x":11,"y":0.05},{"k":"b","x":13,"y":-0.15},{"k":"b","x":15,"y":-0.2},{"k":"b","x":17,"y":-0.25},{"k":"b","x":19,"y":-0.2},{"k":"b","x":20,"y":-0.25},{"k":"b","x":22,"y":-0.15},{"k":"b","x":24,"y":-0.05},{"k":"b","x":26,"y":0.05},{"k":"b","x":27,"y":0.1},{"k":"b","x":29,"y":0},{"k":"b","x":31,"y":-0.15},{"k":"b","x":33,"y":-0.25},{"k":"b","x":35,"y":-0.3},{"k":"b","x":36,"y":-0.37},{"k":"b","x":37,"y":-0.2},{"k":"b","x":38,"y":-0.1},{"k":"b","x":39,"y":0.5},{"k":"b","x":40,"y":1},{"k":"b","x":42,"y":1.2},{"k":"b","x":44,"y":1.3},{"k":"b","x":47,"y":1.35},{"k":"b","x":50,"y":1.35},{"k":"b","x":52,"y":1.4},{"k":"b","x":54,"y":1.47},{"k":"b","x":56,"y":1.38},{"k":"b","x":58,"y":1.37},{"k":"b","x":60,"y":1.35},{"k":"b","x":62,"y":1.3},{"k":"b","x":64,"y":1.25},{"k":"b","x":66,"y":1.2},{"k":"b","x":68,"y":1.28},{"k":"b","x":70,"y":1.15},{"k":"b","x":72,"y":1.2},{"k":"b","x":74,"y":1.15},{"k":"b","x":76,"y":1.2},{"k":"b","x":78,"y":1.15},{"k":"b","x":80,"y":1.1},{"k":"b","x":82,"y":1.18},{"k":"b","x":84,"y":1.15},{"k":"b","x":86,"y":1.2},{"k":"b","x":88,"y":1.1},{"k":"b","x":90,"y":1.05},{"k":"b","x":92,"y":1},{"k":"b","x":94,"y":1.1},{"k":"b","x":96,"y":1.15},{"k":"b","x":98,"y":1.25},{"k":"b","x":100,"y":1.15},{"k":"b","x":102,"y":1.22},{"k":"b","x":104,"y":1.2},{"k":"b","x":106,"y":1.15},{"k":"b","x":108,"y":1.15},{"k":"b","x":110,"y":1.08},{"k":"b","x":112,"y":1},{"k":"b","x":114,"y":1.02},{"k":"b","x":116,"y":1.05},{"k":"b","x":118,"y":1.02},{"k":"b","x":119,"y":1.05},{"k":"b","x":120,"y":0.8},{"k":"b","x":122,"y":0.6},{"k":"b","x":124,"y":0.55},{"k":"b","x":126,"y":0.5},{"k":"b","x":128,"y":0.6},{"k":"b","x":129,"y":0.38},{"k":"b","x":131,"y":0.5},{"k":"b","x":133,"y":0.7},{"k":"b","x":135,"y":0.9},{"k":"b","x":137,"y":1},{"k":"b","x":139,"y":1.1},{"k":"b","x":141,"y":1.12},{"k":"b","x":143,"y":1.05},{"k":"b","x":145,"y":0.95},{"k":"b","x":147,"y":0.6},{"k":"b","x":150,"y":0.2},{"k":"b","x":152,"y":0.05},{"k":"b","x":154,"y":-0.1},{"k":"b","x":156,"y":-0.25},{"k":"b","x":158,"y":-0.32},{"k":"b","x":159,"y":-0.2},{"k":"b","x":160,"y":-0.15},{"k":"b","x":161,"y":-0.35},{"k":"b","x":162,"y":-0.33},
{"k":"c","x":0,"y":0.78},{"k":"c","x":2,"y":0.75},{"k":"c","x":4,"y":0.8},{"k":"c","x":6,"y":0.76},{"k":"c","x":8,"y":0.82},{"k":"c","x":10,"y":0.76},{"k":"c","x":13,"y":0.68},{"k":"c","x":15,"y":0.75},{"k":"c","x":18,"y":0.8},{"k":"c","x":21,"y":0.8},{"k":"c","x":23,"y":0.82},{"k":"c","x":25,"y":0.75},{"k":"c","x":27,"y":0.6},{"k":"c","x":29,"y":0.7},{"k":"c","x":31,"y":0.72},{"k":"c","x":33,"y":0.75},{"k":"c","x":36,"y":0.82},{"k":"c","x":38,"y":0.78},{"k":"c","x":40,"y":0.85},{"k":"c","x":43,"y":0.88},{"k":"c","x":46,"y":0.9},{"k":"c","x":49,"y":0.93},{"k":"c","x":52,"y":0.9},{"k":"c","x":56,"y":0.95},{"k":"c","x":59,"y":0.98},{"k":"c","x":62,"y":0.96},{"k":"c","x":65,"y":0.93},{"k":"c","x":68,"y":0.97},{"k":"c","x":71,"y":0.9},{"k":"c","x":74,"y":0.95},{"k":"c","x":77,"y":0.93},{"k":"c","x":80,"y":0.95},{"k":"c","x":83,"y":0.97},{"k":"c","x":86,"y":0.9},{"k":"c","x":88,"y":0.92},{"k":"c","x":91,"y":0.82},{"k":"c","x":94,"y":0.9},{"k":"c","x":97,"y":0.88},{"k":"c","x":100,"y":0.95},{"k":"c","x":103,"y":0.92},{"k":"c","x":106,"y":0.88},{"k":"c","x":109,"y":0.95},{"k":"c","x":112,"y":0.85},{"k":"c","x":115,"y":0.88},{"k":"c","x":118,"y":0.92},{"k":"c","x":120,"y":0.95},{"k":"c","x":123,"y":0.9},{"k":"c","x":126,"y":0.92},{"k":"c","x":129,"y":0.82},{"k":"c","x":131,"y":0.85},{"k":"c","x":134,"y":0.9},{"k":"c","x":137,"y":0.88},{"k":"c","x":140,"y":0.92},{"k":"c","x":143,"y":0.85},{"k":"c","x":146,"y":0.72},{"k":"c","x":149,"y":0.78},{"k":"c","x":152,"y":0.68},{"k":"c","x":155,"y":0.75},{"k":"c","x":157,"y":0.72},{"k":"c","x":159,"y":0.65},{"k":"c","x":161,"y":0.72},{"k":"c","x":162,"y":0.6},
{"k":"d","x":0,"y":1},{"k":"d","x":37,"y":1},{"k":"d","x":162,"y":0}],
"pi":[{"k":"a","x":0,"y":0.97},{"k":"a","x":3,"y":0.96},{"k":"a","x":6,"y":0.95},{"k":"a","x":10,"y":0.93},{"k":"a","x":14,"y":0.95},{"k":"a","x":18,"y":0.93},{"k":"a","x":22,"y":0.94},{"k":"a","x":26,"y":0.97},{"k":"a","x":30,"y":0.96},{"k":"a","x":33,"y":0.9},{"k":"a","x":36,"y":0.85},{"k":"a","x":39,"y":0.78},{"k":"a","x":41,"y":0.75},{"k":"a","x":44,"y":0.82},{"k":"a","x":47,"y":0.88},{"k":"a","x":50,"y":0.85},{"k":"a","x":53,"y":0.9},{"k":"a","x":56,"y":0.88},{"k":"a","x":58,"y":0.93},{"k":"a","x":60,"y":0.97},{"k":"a","x":63,"y":0.93},{"k":"a","x":66,"y":0.88},{"k":"a","x":68,"y":0.82},{"k":"a","x":70,"y":0.88},{"k":"a","x":72,"y":0.84},{"k":"a","x":74,"y":0.88},{"k":"a","x":76,"y":0.82},{"k":"a","x":78,"y":0.8},{"k":"a","x":80,"y":0.68},{"k":"a","x":82,"y":0.55},{"k":"a","x":84,"y":0.5},{"k":"a","x":87,"y":0.55},{"k":"a","x":90,"y":0.57},{"k":"a","x":93,"y":0.55},{"k":"a","x":96,"y":0.45},{"k":"a","x":99,"y":0.4},{"k":"a","x":102,"y":0.43},{"k":"a","x":105,"y":0.42},{"k":"a","x":108,"y":0.33},{"k":"a","x":111,"y":0.38},{"k":"a","x":114,"y":0.5},{"k":"a","x":116,"y":0.45},{"k":"a","x":118,"y":0.3},{"k":"a","x":121,"y":0.25},{"k":"a","x":124,"y":0.22},{"k":"a","x":127,"y":0.15},{"k":"a","x":130,"y":0.18},{"k":"a","x":133,"y":0.13},{"k":"a","x":136,"y":0.14},{"k":"a","x":139,"y":0.1},{"k":"a","x":141,"y":0.04},{"k":"a","x":143,"y":0.04},
{"k":"b","x":0,"y":0.78},{"k":"b","x":3,"y":0.88},{"k":"b","x":5,"y":0.86},{"k":"b","x":7,"y":0.9},{"k":"b","x":9,"y":0.85},{"k":"b","x":11,"y":0.8},{"k":"b","x":13,"y":0.78},{"k":"b","x":15,"y":0.7},{"k":"b","x":17,"y":0.72},{"k":"b","x":19,"y":0.68},{"k":"b","x":21,"y":0.75},{"k":"b","x":23,"y":0.67},{"k":"b","x":25,"y":0.72},{"k":"b","x":27,"y":0.78},{"k":"b","x":28,"y":0.7},{"k":"b","x":30,"y":0.8},{"k":"b","x":32,"y":0.68},{"k":"b","x":35,"y":0.6},{"k":"b","x":38,"y":0.55},{"k":"b","x":40,"y":0.5},{"k":"b","x":43,"y":0.48},{"k":"b","x":46,"y":0.55},{"k":"b","x":49,"y":0.62},{"k":"b","x":52,"y":0.6},{"k":"b","x":55,"y":0.62},{"k":"b","x":58,"y":0.7},{"k":"b","x":61,"y":0.6},{"k":"b","x":64,"y":0.55},{"k":"b","x":66,"y":0.52},{"k":"b","x":68,"y":0.57},{"k":"b","x":70,"y":0.6},{"k":"b","x":72,"y":0.55},{"k":"b","x":74,"y":0.65},{"k":"b","x":76,"y":0.6},{"k":"b","x":78,"y":0.5},{"k":"b","x":80,"y":0.38},{"k":"b","x":82,"y":0.3},{"k":"b","x":84,"y":0.35},{"k":"b","x":86,"y":0.45},{"k":"b","x":88,"y":0.38},{"k":"b","x":90,"y":0.36},{"k":"b","x":93,"y":0.3},{"k":"b","x":96,"y":0.25},{"k":"b","x":99,"y":0.2},{"k":"b","x":102,"y":0.18},{"k":"b","x":105,"y":0.17},{"k":"b","x":108,"y":0.13},{"k":"b","x":111,"y":0.15},{"k":"b","x":114,"y":0.12},{"k":"b","x":117,"y":0.1},{"k":"b","x":120,"y":0.08},{"k":"b","x":123,"y":0.09},{"k":"b","x":126,"y":0.07},{"k":"b","x":129,"y":0.08},{"k":"b","x":132,"y":0.1},{"k":"b","x":135,"y":0.07},{"k":"b","x":138,"y":0.04},{"k":"b","x":141,"y":0},{"k":"b","x":143,"y":-0.02},
{"k":"c","x":0,"y":0.9},{"k":"c","x":3,"y":0.91},{"k":"c","x":6,"y":0.88},{"k":"c","x":9,"y":0.86},{"k":"c","x":12,"y":0.87},{"k":"c","x":15,"y":0.89},{"k":"c","x":18,"y":0.85},{"k":"c","x":21,"y":0.81},{"k":"c","x":24,"y":0.83},{"k":"c","x":27,"y":0.87},{"k":"c","x":30,"y":0.88},{"k":"c","x":33,"y":0.85},{"k":"c","x":36,"y":0.81},{"k":"c","x":39,"y":0.83},{"k":"c","x":42,"y":0.8},{"k":"c","x":45,"y":0.74},{"k":"c","x":48,"y":0.72},{"k":"c","x":51,"y":0.74},{"k":"c","x":54,"y":0.68},{"k":"c","x":56,"y":0.65},{"k":"c","x":58,"y":0.72},{"k":"c","x":61,"y":0.8},{"k":"c","x":64,"y":0.77},{"k":"c","x":66,"y":0.74},{"k":"c","x":68,"y":0.8},{"k":"c","x":70,"y":0.86},{"k":"c","x":72,"y":0.8},{"k":"c","x":74,"y":0.75},{"k":"c","x":76,"y":0.68},{"k":"c","x":78,"y":0.55},{"k":"c","x":80,"y":0.5},{"k":"c","x":82,"y":0.52},{"k":"c","x":84,"y":0.55},{"k":"c","x":87,"y":0.62},{"k":"c","x":90,"y":0.68},{"k":"c","x":93,"y":0.72},{"k":"c","x":95,"y":0.6},{"k":"c","x":97,"y":0.52},{"k":"c","x":99,"y":0.38},{"k":"c","x":101,"y":0.28},{"k":"c","x":103,"y":0.2},{"k":"c","x":106,"y":0.17},{"k":"c","x":110,"y":0.16},{"k":"c","x":114,"y":0.17},{"k":"c","x":117,"y":0.16},{"k":"c","x":120,"y":0.12},{"k":"c","x":123,"y":0.12},{"k":"c","x":126,"y":0.14},{"k":"c","x":129,"y":0.11},{"k":"c","x":132,"y":0.12},{"k":"c","x":135,"y":0.1},{"k":"c","x":138,"y":0.1},{"k":"c","x":141,"y":0.09},{"k":"c","x":143,"y":0.09},
{"k":"d","x":0,"y":1},{"k":"d","x":18,"y":1},{"k":"d","x":143,"y":0}],
"pj":[{"k":"b","x":0,"y":0.08},{"k":"b","x":2,"y":0},{"k":"b","x":4,"y":0.22},{"k":"b","x":6,"y":0.12},{"k":"b","x":8,"y":0.18},{"k":"b","x":10,"y":0},{"k":"b","x":12,"y":0.15},{"k":"b","x":14,"y":0.05},{"k":"b","x":16,"y":-0.05},{"k":"b","x":18,"y":0.15},{"k":"b","x":20,"y":0.2},{"k":"b","x":22,"y":-0.1},{"k":"b","x":24,"y":0.22},{"k":"b","x":26,"y":0},{"k":"b","x":28,"y":0.18},{"k":"b","x":30,"y":-0.05},{"k":"b","x":32,"y":0.2},{"k":"b","x":34,"y":0.1},{"k":"b","x":36,"y":0},{"k":"b","x":38,"y":0.18},{"k":"b","x":40,"y":-0.02},{"k":"b","x":42,"y":0.1},{"k":"b","x":44,"y":-0.05},{"k":"b","x":46,"y":0.15},{"k":"b","x":48,"y":0},{"k":"b","x":50,"y":0.2},{"k":"b","x":52,"y":-0.05},{"k":"b","x":54,"y":0.1},{"k":"b","x":56,"y":0.02},{"k":"b","x":58,"y":-0.05},{"k":"b","x":60,"y":0.15},{"k":"b","x":62,"y":-0.02},{"k":"b","x":64,"y":0.18},{"k":"b","x":66,"y":0.05},{"k":"b","x":68,"y":-0.05},{"k":"b","x":70,"y":0.1},{"k":"b","x":72,"y":0},{"k":"b","x":74,"y":-0.05},{"k":"b","x":76,"y":0.12},{"k":"b","x":78,"y":-0.05},{"k":"b","x":80,"y":0},{"k":"b","x":82,"y":0.15},{"k":"b","x":84,"y":-0.02},{"k":"b","x":86,"y":0.1},{"k":"b","x":88,"y":-0.05},{"k":"b","x":90,"y":0.08},{"k":"b","x":92,"y":-0.1},{"k":"b","x":94,"y":0.05},{"k":"b","x":96,"y":0},{"k":"b","x":98,"y":-0.08},{"k":"b","x":100,"y":0.05},{"k":"b","x":102,"y":-0.02},{"k":"b","x":104,"y":0.1},{"k":"b","x":106,"y":-0.05},{"k":"b","x":108,"y":0},{"k":"b","x":110,"y":-0.12},{"k":"b","x":112,"y":0.02},{"k":"b","x":114,"y":-0.1},{"k":"b","x":116,"y":0},{"k":"b","x":118,"y":-0.05},{"k":"b","x":120,"y":0.05},{"k":"b","x":122,"y":-0.1},{"k":"b","x":124,"y":0.1},{"k":"b","x":126,"y":-0.08},{"k":"b","x":128,"y":0.02},{"k":"b","x":130,"y":-0.1},{"k":"b","x":132,"y":0.05},{"k":"b","x":134,"y":-0.05},{"k":"b","x":136,"y":0},{"k":"b","x":138,"y":-0.1},{"k":"b","x":140,"y":0.1},{"k":"b","x":142,"y":-0.05},{"k":"b","x":144,"y":0.05},{"k":"b","x":146,"y":0.15},{"k":"b","x":148,"y":0},{"k":"b","x":150,"y":0.18},{"k":"b","x":152,"y":-0.08},{"k":"b","x":154,"y":0.05},{"k":"b","x":156,"y":-0.12},{"k":"b","x":158,"y":0},{"k":"b","x":160,"y":0.1},{"k":"b","x":162,"y":-0.1},{"k":"b","x":164,"y":0.05},{"k":"b","x":166,"y":-0.05},{"k":"b","x":168,"y":0.1},{"k":"b","x":170,"y":-0.12},{"k":"b","x":172,"y":0.05},{"k":"b","x":174,"y":-0.05},{"k":"b","x":176,"y":0.1},{"k":"b","x":178,"y":0},{"k":"b","x":180,"y":0.22},{"k":"b","x":182,"y":0.05},{"k":"b","x":184,"y":0.15},{"k":"b","x":186,"y":-0.05},{"k":"b","x":188,"y":0.2},{"k":"b","x":190,"y":0},{"k":"b","x":192,"y":0.1},{"k":"b","x":194,"y":-0.08},{"k":"b","x":196,"y":0.05},{"k":"b","x":198,"y":-0.1},{"k":"b","x":200,"y":0},{"k":"b","x":202,"y":-0.05},{"k":"b","x":204,"y":0.1},{"k":"b","x":206,"y":-0.05},{"k":"b","x":208,"y":0.08},{"k":"b","x":210,"y":-0.12},{"k":"b","x":212,"y":0.05},{"k":"b","x":214,"y":-0.1},{"k":"b","x":216,"y":0.1},{"k":"b","x":218,"y":-0.05},{"k":"b","x":220,"y":-0.15},{"k":"b","x":222,"y":0.05},{"k":"b","x":224,"y":-0.18},{"k":"b","x":226,"y":0},{"k":"b","x":228,"y":0.1},{"k":"b","x":230,"y":-0.1},{"k":"b","x":232,"y":0},{"k":"b","x":234,"y":0.12},{"k":"b","x":236,"y":-0.05},{"k":"b","x":238,"y":0.05},{"k":"b","x":240,"y":-0.1},{"k":"b","x":242,"y":0},{"k":"b","x":244,"y":0.1},{"k":"b","x":246,"y":-0.08},{"k":"b","x":248,"y":0.05},{"k":"b","x":250,"y":-0.05},{"k":"b","x":252,"y":0.12},{"k":"b","x":254,"y":-0.02},{"k":"b","x":256,"y":0.12},{"k":"b","x":257,"y":0.1},
{"k":"c","x":0,"y":0.42},{"k":"c","x":3,"y":0.5},{"k":"c","x":6,"y":0.42},{"k":"c","x":9,"y":0.38},{"k":"c","x":12,"y":0.36},{"k":"c","x":15,"y":0.4},{"k":"c","x":18,"y":0.38},{"k":"c","x":21,"y":0.43},{"k":"c","x":25,"y":0.48},{"k":"c","x":28,"y":0.4},{"k":"c","x":32,"y":0.43},{"k":"c","x":36,"y":0.38},{"k":"c","x":40,"y":0.44},{"k":"c","x":44,"y":0.36},{"k":"c","x":48,"y":0.38},{"k":"c","x":52,"y":0.34},{"k":"c","x":56,"y":0.42},{"k":"c","x":60,"y":0.38},{"k":"c","x":64,"y":0.48},{"k":"c","x":68,"y":0.51},{"k":"c","x":72,"y":0.42},{"k":"c","x":76,"y":0.38},{"k":"c","x":80,"y":0.36},{"k":"c","x":84,"y":0.4},{"k":"c","x":88,"y":0.35},{"k":"c","x":92,"y":0.38},{"k":"c","x":96,"y":0.32},{"k":"c","x":100,"y":0.4},{"k":"c","x":104,"y":0.37},{"k":"c","x":108,"y":0.34},{"k":"c","x":112,"y":0.38},{"k":"c","x":116,"y":0.35},{"k":"c","x":120,"y":0.36},{"k":"c","x":124,"y":0.38},{"k":"c","x":128,"y":0.35},{"k":"c","x":132,"y":0.33},{"k":"c","x":136,"y":0.38},{"k":"c","x":140,"y":0.43},{"k":"c","x":144,"y":0.36},{"k":"c","x":148,"y":0.4},{"k":"c","x":152,"y":0.37},{"k":"c","x":156,"y":0.35},{"k":"c","x":160,"y":0.4},{"k":"c","x":164,"y":0.34},{"k":"c","x":168,"y":0.35},{"k":"c","x":172,"y":0.38},{"k":"c","x":176,"y":0.34},{"k":"c","x":180,"y":0.4},{"k":"c","x":184,"y":0.38},{"k":"c","x":188,"y":0.37},{"k":"c","x":192,"y":0.33},{"k":"c","x":196,"y":0.36},{"k":"c","x":200,"y":0.3},{"k":"c","x":204,"y":0.32},{"k":"c","x":208,"y":0.35},{"k":"c","x":212,"y":0.3},{"k":"c","x":216,"y":0.32},{"k":"c","x":220,"y":0.25},{"k":"c","x":224,"y":0.3},{"k":"c","x":228,"y":0.28},{"k":"c","x":232,"y":0.35},{"k":"c","x":236,"y":0.33},{"k":"c","x":240,"y":0.28},{"k":"c","x":244,"y":0.3},{"k":"c","x":248,"y":0.22},{"k":"c","x":252,"y":0.32},{"k":"c","x":255,"y":0.27},{"k":"c","x":257,"y":0.25},
{"k":"d","x":0,"y":1},{"k":"d","x":132,"y":1},{"k":"d","x":257,"y":0}],
"pk":[{"k":"a","x":0,"y":0.92},{"k":"a","x":3,"y":0.95},{"k":"a","x":6,"y":0.96},{"k":"a","x":9,"y":0.95},{"k":"a","x":12,"y":0.97},{"k":"a","x":14,"y":0.92},{"k":"a","x":17,"y":0.94},{"k":"a","x":19,"y":0.96},{"k":"a","x":22,"y":0.93},{"k":"a","x":24,"y":0.92},{"k":"a","x":26,"y":0.95},{"k":"a","x":29,"y":0.92},{"k":"a","x":32,"y":0.93},{"k":"a","x":35,"y":0.93},{"k":"a","x":38,"y":0.95},{"k":"a","x":41,"y":0.93},{"k":"a","x":44,"y":0.88},{"k":"a","x":47,"y":0.9},{"k":"a","x":49,"y":0.91},{"k":"a","x":51,"y":0.85},{"k":"a","x":54,"y":0.84},{"k":"a","x":56,"y":0.85},{"k":"a","x":57,"y":0.8},{"k":"a","x":59,"y":0.72},{"k":"a","x":61,"y":0.64},{"k":"a","x":63,"y":0.68},{"k":"a","x":65,"y":0.72},{"k":"a","x":67,"y":0.7},{"k":"a","x":69,"y":0.75},{"k":"a","x":71,"y":0.68},{"k":"a","x":72,"y":0.62},{"k":"a","x":74,"y":0.66},{"k":"a","x":76,"y":0.69},{"k":"a","x":78,"y":0.64},{"k":"a","x":79,"y":0.58},{"k":"a","x":81,"y":0.62},{"k":"a","x":84,"y":0.55},{"k":"a","x":86,"y":0.45},{"k":"a","x":88,"y":0.35},{"k":"a","x":91,"y":0.3},{"k":"a","x":94,"y":0.27},{"k":"a","x":97,"y":0.26},{"k":"a","x":100,"y":0.24},{"k":"a","x":103,"y":0.2},{"k":"a","x":106,"y":0.17},{"k":"a","x":108,"y":0.12},{"k":"a","x":111,"y":0.08},{"k":"a","x":114,"y":0.06},{"k":"a","x":117,"y":0.04},{"k":"a","x":120,"y":0.02},{"k":"a","x":121,"y":0.01},
{"k":"b","x":0,"y":0.16},{"k":"b","x":3,"y":0.17},{"k":"b","x":6,"y":0.17},{"k":"b","x":9,"y":0.15},{"k":"b","x":12,"y":0.15},{"k":"b","x":14,"y":0.12},{"k":"b","x":17,"y":0.14},{"k":"b","x":20,"y":0.14},{"k":"b","x":24,"y":0.13},{"k":"b","x":28,"y":0.13},{"k":"b","x":32,"y":0.12},{"k":"b","x":36,"y":0.11},{"k":"b","x":39,"y":0.11},{"k":"b","x":42,"y":0.1},{"k":"b","x":45,"y":0.09},{"k":"b","x":48,"y":0.08},{"k":"b","x":52,"y":0.07},{"k":"b","x":56,"y":0.06},{"k":"b","x":60,"y":0.05},{"k":"b","x":64,"y":0.04},{"k":"b","x":68,"y":0.03},{"k":"b","x":72,"y":0.02},{"k":"b","x":76,"y":0.01},{"k":"b","x":80,"y":0},{"k":"b","x":84,"y":-0.01},{"k":"b","x":88,"y":-0.03},{"k":"b","x":92,"y":-0.05},{"k":"b","x":96,"y":-0.07},{"k":"b","x":100,"y":-0.09},{"k":"b","x":104,"y":-0.1},{"k":"b","x":108,"y":-0.12},{"k":"b","x":112,"y":-0.13},{"k":"b","x":116,"y":-0.14},{"k":"b","x":119,"y":-0.14},{"k":"b","x":121,"y":-0.15},
{"k":"c","x":0,"y":0.5},{"k":"c","x":2,"y":0.53},{"k":"c","x":5,"y":0.48},{"k":"c","x":8,"y":0.5},{"k":"c","x":10,"y":0.48},{"k":"c","x":12,"y":0.52},{"k":"c","x":14,"y":0.46},{"k":"c","x":16,"y":0.5},{"k":"c","x":18,"y":0.54},{"k":"c","x":20,"y":0.47},{"k":"c","x":22,"y":0.45},{"k":"c","x":24,"y":0.43},{"k":"c","x":26,"y":0.47},{"k":"c","x":29,"y":0.44},{"k":"c","x":31,"y":0.42},{"k":"c","x":34,"y":0.45},{"k":"c","x":37,"y":0.47},{"k":"c","x":39,"y":0.47},{"k":"c","x":41,"y":0.41},{"k":"c","x":44,"y":0.4},{"k":"c","x":47,"y":0.41},{"k":"c","x":50,"y":0.39},{"k":"c","x":53,"y":0.4},{"k":"c","x":56,"y":0.39},{"k":"c","x":58,"y":0.38},{"k":"c","x":60,"y":0.34},{"k":"c","x":62,"y":0.37},{"k":"c","x":65,"y":0.35},{"k":"c","x":67,"y":0.34},{"k":"c","x":69,"y":0.37},{"k":"c","x":71,"y":0.34},{"k":"c","x":74,"y":0.33},{"k":"c","x":77,"y":0.32},{"k":"c","x":80,"y":0.3},{"k":"c","x":83,"y":0.28},{"k":"c","x":86,"y":0.26},{"k":"c","x":89,"y":0.25},{"k":"c","x":92,"y":0.24},{"k":"c","x":95,"y":0.22},{"k":"c","x":98,"y":0.22},{"k":"c","x":101,"y":0.2},{"k":"c","x":104,"y":0.18},{"k":"c","x":107,"y":0.16},{"k":"c","x":110,"y":0.14},{"k":"c","x":113,"y":0.13},{"k":"c","x":116,"y":0.11},{"k":"c","x":119,"y":0.09},{"k":"c","x":121,"y":0.08},
{"k":"d","x":0,"y":0.97},{"k":"d","x":121,"y":0}],
"pl":[{"k":"a","x":0,"y":0.93},{"k":"a","x":4,"y":0.97},{"k":"a","x":8,"y":0.97},{"k":"a","x":12,"y":0.96},{"k":"a","x":16,"y":0.96},{"k":"a","x":20,"y":0.96},{"k":"a","x":22,"y":0.9},{"k":"a","x":25,"y":0.8},{"k":"a","x":28,"y":0.77},{"k":"a","x":31,"y":0.8},{"k":"a","x":33,"y":0.88},{"k":"a","x":36,"y":0.95},{"k":"a","x":40,"y":0.97},{"k":"a","x":44,"y":0.96},{"k":"a","x":48,"y":0.95},{"k":"a","x":51,"y":0.9},{"k":"a","x":53,"y":0.87},{"k":"a","x":56,"y":0.8},{"k":"a","x":58,"y":0.75},{"k":"a","x":60,"y":0.66},{"k":"a","x":63,"y":0.65},{"k":"a","x":65,"y":0.67},{"k":"a","x":68,"y":0.72},{"k":"a","x":71,"y":0.75},{"k":"a","x":74,"y":0.85},{"k":"a","x":78,"y":0.92},{"k":"a","x":80,"y":0.94},{"k":"a","x":83,"y":0.92},{"k":"a","x":86,"y":0.88},{"k":"a","x":89,"y":0.85},{"k":"a","x":92,"y":0.78},{"k":"a","x":94,"y":0.72},{"k":"a","x":96,"y":0.63},{"k":"a","x":98,"y":0.6},{"k":"a","x":100,"y":0.55},{"k":"a","x":102,"y":0.45},{"k":"a","x":104,"y":0.37},{"k":"a","x":107,"y":0.4},{"k":"a","x":110,"y":0.42},{"k":"a","x":112,"y":0.46},{"k":"a","x":115,"y":0.4},{"k":"a","x":118,"y":0.37},{"k":"a","x":121,"y":0.38},{"k":"a","x":124,"y":0.33},{"k":"a","x":127,"y":0.28},{"k":"a","x":130,"y":0.25},{"k":"a","x":133,"y":0.22},{"k":"a","x":135,"y":0.25},{"k":"a","x":138,"y":0.2},{"k":"a","x":141,"y":0.15},{"k":"a","x":144,"y":0.12},{"k":"a","x":148,"y":0.11},{"k":"a","x":151,"y":0.12},{"k":"a","x":153,"y":0.08},{"k":"a","x":156,"y":0.12},
{"k":"b","x":0,"y":0.12},{"k":"b","x":1,"y":0.2},{"k":"b","x":3,"y":0.05},{"k":"b","x":5,"y":-0.02},{"k":"b","x":7,"y":0.15},{"k":"b","x":9,"y":0},{"k":"b","x":10,"y":-0.05},{"k":"b","x":11,"y":0.1},{"k":"b","x":13,"y":-0.1},{"k":"b","x":15,"y":0.1},{"k":"b","x":17,"y":-0.1},{"k":"b","x":19,"y":0.05},{"k":"b","x":20,"y":0.2},{"k":"b","x":22,"y":-0.05},{"k":"b","x":24,"y":0.1},{"k":"b","x":26,"y":-0.08},{"k":"b","x":28,"y":-0.05},{"k":"b","x":30,"y":-0.08},{"k":"b","x":32,"y":-0.1},{"k":"b","x":34,"y":0.05},{"k":"b","x":36,"y":-0.05},{"k":"b","x":38,"y":0.05},{"k":"b","x":40,"y":-0.1},{"k":"b","x":42,"y":0.1},{"k":"b","x":44,"y":-0.05},{"k":"b","x":46,"y":0.12},{"k":"b","x":48,"y":-0.12},{"k":"b","x":49,"y":0.1},{"k":"b","x":51,"y":-0.05},{"k":"b","x":53,"y":0.03},{"k":"b","x":55,"y":-0.15},{"k":"b","x":57,"y":-0.1},{"k":"b","x":59,"y":0.05},{"k":"b","x":61,"y":0.15},{"k":"b","x":63,"y":-0.05},{"k":"b","x":65,"y":0.2},{"k":"b","x":67,"y":0.05},{"k":"b","x":69,"y":0.1},{"k":"b","x":71,"y":-0.05},{"k":"b","x":73,"y":0.12},{"k":"b","x":75,"y":0.05},{"k":"b","x":77,"y":0.18},{"k":"b","x":79,"y":-0.05},{"k":"b","x":81,"y":0.15},{"k":"b","x":83,"y":0},{"k":"b","x":85,"y":0.1},{"k":"b","x":87,"y":-0.08},{"k":"b","x":89,"y":0.1},{"k":"b","x":91,"y":0},{"k":"b","x":93,"y":0.22},{"k":"b","x":95,"y":0.05},{"k":"b","x":97,"y":0.12},{"k":"b","x":99,"y":0},{"k":"b","x":101,"y":-0.1},{"k":"b","x":102,"y":-0.15},{"k":"b","x":104,"y":0},{"k":"b","x":106,"y":0.1},{"k":"b","x":108,"y":-0.05},{"k":"b","x":110,"y":0},{"k":"b","x":112,"y":0.2},{"k":"b","x":114,"y":0.05},{"k":"b","x":116,"y":-0.1},{"k":"b","x":118,"y":0.05},{"k":"b","x":120,"y":-0.05},{"k":"b","x":122,"y":0.15},{"k":"b","x":124,"y":0},{"k":"b","x":126,"y":-0.1},{"k":"b","x":128,"y":0.1},{"k":"b","x":130,"y":-0.05},{"k":"b","x":132,"y":0.05},{"k":"b","x":134,"y":-0.08},{"k":"b","x":136,"y":0},{"k":"b","x":138,"y":-0.05},{"k":"b","x":140,"y":0.05},{"k":"b","x":142,"y":-0.12},{"k":"b","x":144,"y":0.12},{"k":"b","x":146,"y":-0.05},{"k":"b","x":148,"y":0.02},{"k":"b","x":150,"y":0.05},{"k":"b","x":152,"y":-0.05},{"k":"b","x":153,"y":-0.13},{"k":"b","x":154,"y":0.05},{"k":"b","x":156,"y":0.06},
{"k":"c","x":0,"y":0.76},{"k":"c","x":2,"y":0.74},{"k":"c","x":4,"y":0.78},{"k":"c","x":6,"y":0.75},{"k":"c","x":8,"y":0.72},{"k":"c","x":10,"y":0.77},{"k":"c","x":12,"y":0.75},{"k":"c","x":14,"y":0.78},{"k":"c","x":16,"y":0.73},{"k":"c","x":18,"y":0.78},{"k":"c","x":20,"y":0.8},{"k":"c","x":22,"y":0.76},{"k":"c","x":24,"y":0.73},{"k":"c","x":27,"y":0.74},{"k":"c","x":30,"y":0.79},{"k":"c","x":33,"y":0.75},{"k":"c","x":36,"y":0.77},{"k":"c","x":39,"y":0.73},{"k":"c","x":42,"y":0.76},{"k":"c","x":45,"y":0.72},{"k":"c","x":48,"y":0.77},{"k":"c","x":51,"y":0.79},{"k":"c","x":54,"y":0.73},{"k":"c","x":57,"y":0.75},{"k":"c","x":60,"y":0.79},{"k":"c","x":63,"y":0.76},{"k":"c","x":66,"y":0.72},{"k":"c","x":69,"y":0.77},{"k":"c","x":72,"y":0.74},{"k":"c","x":75,"y":0.73},{"k":"c","x":78,"y":0.78},{"k":"c","x":81,"y":0.76},{"k":"c","x":84,"y":0.74},{"k":"c","x":87,"y":0.78},{"k":"c","x":90,"y":0.75},{"k":"c","x":93,"y":0.8},{"k":"c","x":95,"y":0.72},{"k":"c","x":97,"y":0.68},{"k":"c","x":99,"y":0.65},{"k":"c","x":101,"y":0.62},{"k":"c","x":103,"y":0.65},{"k":"c","x":105,"y":0.7},{"k":"c","x":108,"y":0.72},{"k":"c","x":111,"y":0.68},{"k":"c","x":114,"y":0.7},{"k":"c","x":117,"y":0.72},{"k":"c","x":120,"y":0.68},{"k":"c","x":123,"y":0.7},{"k":"c","x":126,"y":0.66},{"k":"c","x":129,"y":0.67},{"k":"c","x":132,"y":0.66},{"k":"c","x":135,"y":0.68},{"k":"c","x":138,"y":0.67},{"k":"c","x":141,"y":0.7},{"k":"c","x":144,"y":0.66},{"k":"c","x":147,"y":0.7},{"k":"c","x":150,"y":0.74},{"k":"c","x":153,"y":0.66},{"k":"c","x":156,"y":0.7},
{"k":"d","x":0,"y":1},{"k":"d","x":31,"y":1},{"k":"d","x":156,"y":0}]
},
"spacing":5,
"resolve":{"scale":{"color":"independent","strokeDash":"independent"}},
"vconcat":[
{"title":{"text":"Source: FD004","orient":"top","offset":5,"anchor":"middle","frame":"bounds"},"spacing":14,"resolve":{"scale":{"color":"independent","strokeDash":"independent"}},"hconcat":[
{"width":250,"height":162,"title":{"text":"(a) Target: FD001"},"encoding":{"x":{"field":"x","type":"quantitative","title":"Number of cycles","scale":{"domain":[-8.25,173.25],"nice":false,"zero":false},"axis":{"values":[0,25,50,75,100,125,150],"format":"d"}},"y":{"field":"y","type":"quantitative","title":"Normalised RUL","scale":{"domain":[-0.56,1.08],"nice":false,"zero":false},"axis":{"values":[-0.4,-0.2,0,0.2,0.4,0.6,0.8,1],"format":".1f"}},"color":{"field":"k","type":"nominal","title":null,"scale":{"domain":["a","b","c","d"],"range":["#96d4e4","#ff9090","#1f77b4","#808080"]},"legend":{"labelExpr":"datum.label=='a'?'Target-Only':datum.label=='b'?'Source-Only':datum.label=='c'?'LSTM-DANN':'RUL'"}},"strokeDash":{"field":"k","type":"nominal","title":null,"scale":{"domain":["a","b","c","d"],"range":[[1,0],[1,0],[3.5,1.5],[1,0]]},"legend":{"labelExpr":"datum.label=='a'?'Target-Only':datum.label=='b'?'Source-Only':datum.label=='c'?'LSTM-DANN':'RUL'"}}},"layer":[{"data":{"name":"t1"},"mark":"line"},{"data":{"name":"pa"},"mark":"line"}]},
{"width":250,"height":162,"title":{"text":"(b) Target: FD002"},"encoding":{"x":{"field":"x","type":"quantitative","title":"Number of cycles","scale":{"domain":[-12.85,269.85],"nice":false,"zero":false},"axis":{"values":[0,50,100,150,200,250],"format":"d"}},"y":{"field":"y","type":"quantitative","title":"Normalised RUL","scale":{"domain":[-0.05,1.05],"nice":false,"zero":false},"axis":{"values":[0,0.2,0.4,0.6,0.8,1],"format":".1f"}},"color":{"field":"k","type":"nominal","title":null,"scale":{"domain":["a","b","c","d"],"range":["#96d4e4","#ff9090","#1f77b4","#808080"]},"legend":{"labelExpr":"datum.label=='a'?'Target-Only':datum.label=='b'?'Source-Only':datum.label=='c'?'LSTM-DANN':'RUL'"}},"strokeDash":{"field":"k","type":"nominal","title":null,"scale":{"domain":["a","b","c","d"],"range":[[1,0],[1,0],[3.5,1.5],[1,0]]},"legend":{"labelExpr":"datum.label=='a'?'Target-Only':datum.label=='b'?'Source-Only':datum.label=='c'?'LSTM-DANN':'RUL'"}}},"layer":[{"data":{"name":"t2"},"mark":"line"},{"data":{"name":"pb"},"mark":"line"}]},
{"width":250,"height":162,"title":{"text":"(c) Target: FD003"},"encoding":{"x":{"field":"x","type":"quantitative","title":"Number of cycles","scale":{"domain":[-8.1,170.1],"nice":false,"zero":false},"axis":{"values":[0,20,40,60,80,100,120,140,160],"format":"d"}},"y":{"field":"y","type":"quantitative","title":"Normalised RUL","scale":{"domain":[-0.51,1.25],"nice":false,"zero":false},"axis":{"values":[-0.4,-0.2,0,0.2,0.4,0.6,0.8,1,1.2],"format":".1f"}},"color":{"field":"k","type":"nominal","title":null,"scale":{"domain":["a","b","c","d"],"range":["#96d4e4","#ff9090","#1f77b4","#808080"]},"legend":{"labelExpr":"datum.label=='a'?'Target-Only':datum.label=='b'?'Source-Only':datum.label=='c'?'LSTM-DANN':'RUL'"}},"strokeDash":{"field":"k","type":"nominal","title":null,"scale":{"domain":["a","b","c","d"],"range":[[1,0],[1,0],[3.5,1.5],[1,0]]},"legend":{"labelExpr":"datum.label=='a'?'Target-Only':datum.label=='b'?'Source-Only':datum.label=='c'?'LSTM-DANN':'RUL'"}}},"layer":[{"data":{"name":"t3"},"mark":"line"},{"data":{"name":"pc"},"mark":"line"}]}
]},
{"title":{"text":"Source: FD003","orient":"top","offset":5,"anchor":"middle","frame":"bounds"},"spacing":12,"resolve":{"scale":{"color":"independent","strokeDash":"independent"}},"hconcat":[
{"width":253,"height":165,"title":{"text":"(d) Target: FD001"},"encoding":{"x":{"field":"x","type":"quantitative","title":"Number of cycles","scale":{"domain":[-8.25,173.25],"nice":false,"zero":false},"axis":{"values":[0,25,50,75,100,125,150],"format":"d"}},"y":{"field":"y","type":"quantitative","title":"Normalised RUL","scale":{"domain":[-0.055,1.155],"nice":false,"zero":false},"axis":{"values":[0,0.2,0.4,0.6,0.8,1],"format":".1f"}},"color":{"field":"k","type":"nominal","title":null,"scale":{"domain":["a","b","c","d"],"range":["#96d4e4","#ff9090","#1f77b4","#808080"]},"legend":{"labelExpr":"datum.label=='a'?'Target-Only':datum.label=='b'?'Source-Only':datum.label=='c'?'LSTM-DANN':'RUL'"}},"strokeDash":{"field":"k","type":"nominal","title":null,"scale":{"domain":["a","b","c","d"],"range":[[1,0],[1,0],[3.5,1.5],[1,0]]},"legend":{"labelExpr":"datum.label=='a'?'Target-Only':datum.label=='b'?'Source-Only':datum.label=='c'?'LSTM-DANN':'RUL'"}}},"layer":[{"data":{"name":"t1"},"mark":"line"},{"data":{"name":"pd"},"mark":"line"}]},
{"width":253,"height":165,"title":{"text":"(e) Target: FD002"},"encoding":{"x":{"field":"x","type":"quantitative","title":"Number of cycles","scale":{"domain":[-12.85,269.85],"nice":false,"zero":false},"axis":{"values":[0,50,100,150,200,250],"format":"d"}},"y":{"field":"y","type":"quantitative","title":"Normalised RUL","scale":{"domain":[-0.07,1.05],"nice":false,"zero":false},"axis":{"values":[0,0.2,0.4,0.6,0.8,1],"format":".1f"}},"color":{"field":"k","type":"nominal","title":null,"scale":{"domain":["a","b","c","d"],"range":["#96d4e4","#ff9090","#1f77b4","#808080"]},"legend":{"labelExpr":"datum.label=='a'?'Target-Only':datum.label=='b'?'Source-Only':datum.label=='c'?'LSTM-DANN':'RUL'"}},"strokeDash":{"field":"k","type":"nominal","title":null,"scale":{"domain":["a","b","c","d"],"range":[[1,0],[1,0],[3.5,1.5],[1,0]]},"legend":{"labelExpr":"datum.label=='a'?'Target-Only':datum.label=='b'?'Source-Only':datum.label=='c'?'LSTM-DANN':'RUL'"}}},"layer":[{"data":{"name":"t2"},"mark":"line"},{"data":{"name":"pe"},"mark":"line"}]},
{"width":253,"height":165,"title":{"text":"(f) Target: FD004"},"encoding":{"x":{"field":"x","type":"quantitative","title":"Number of cycles","scale":{"domain":[-10.85,227.85],"nice":false,"zero":false},"axis":{"values":[0,50,100,150,200],"format":"d"}},"y":{"field":"y","type":"quantitative","title":"Normalised RUL","scale":{"domain":[-0.092,1.052],"nice":false,"zero":false},"axis":{"values":[0,0.2,0.4,0.6,0.8,1],"format":".1f"}},"color":{"field":"k","type":"nominal","title":null,"scale":{"domain":["a","b","c","d"],"range":["#96d4e4","#ff9090","#1f77b4","#808080"]},"legend":{"labelExpr":"datum.label=='a'?'Target-Only':datum.label=='b'?'Source-Only':datum.label=='c'?'LSTM-DANN':'RUL'"}},"strokeDash":{"field":"k","type":"nominal","title":null,"scale":{"domain":["a","b","c","d"],"range":[[1,0],[1,0],[3.5,1.5],[1,0]]},"legend":{"labelExpr":"datum.label=='a'?'Target-Only':datum.label=='b'?'Source-Only':datum.label=='c'?'LSTM-DANN':'RUL'"}}},"layer":[{"data":{"name":"pf"},"mark":"line"}]}
]},
{"title":{"text":"Source: FD002","orient":"top","offset":5,"anchor":"middle","frame":"bounds"},"spacing":12,"resolve":{"scale":{"color":"independent","strokeDash":"independent"}},"hconcat":[
{"width":248,"height":161,"title":{"text":"(g) Target: FD001"},"encoding":{"x":{"field":"x","type":"quantitative","title":"Number of cycles","scale":{"domain":[-8.25,173.25],"nice":false,"zero":false},"axis":{"values":[0,25,50,75,100,125,150],"format":"d"}},"y":{"field":"y","type":"quantitative","title":"Normalised RUL","scale":{"domain":[-0.92,1.76],"nice":false,"zero":false},"axis":{"values":[-0.5,0,0.5,1,1.5],"format":".1f"}},"color":{"field":"k","type":"nominal","title":null,"scale":{"domain":["a","b","c","d"],"range":["#96d4e4","#ff9090","#1f77b4","#808080"]},"legend":{"labelExpr":"datum.label=='a'?'Target-Only':datum.label=='b'?'Source-Only':datum.label=='c'?'LSTM-DANN':'RUL'"}},"strokeDash":{"field":"k","type":"nominal","title":null,"scale":{"domain":["a","b","c","d"],"range":[[1,0],[1,0],[3.5,1.5],[1,0]]},"legend":{"labelExpr":"datum.label=='a'?'Target-Only':datum.label=='b'?'Source-Only':datum.label=='c'?'LSTM-DANN':'RUL'"}}},"layer":[{"data":{"name":"t1"},"mark":"line"},{"data":{"name":"pg"},"mark":"line"}]},
{"width":248,"height":161,"title":{"text":"(h) Target: FD003"},"encoding":{"x":{"field":"x","type":"quantitative","title":"Number of cycles","scale":{"domain":[-8.1,170.1],"nice":false,"zero":false},"axis":{"values":[0,20,40,60,80,100,120,140,160],"format":"d"}},"y":{"field":"y","type":"quantitative","title":"Normalised RUL","scale":{"domain":[-0.46,1.56],"nice":false,"zero":false},"axis":{"values":[-0.25,0,0.25,0.5,0.75,1,1.25,1.5],"format":".2f"}},"color":{"field":"k","type":"nominal","title":null,"scale":{"domain":["a","b","c","d"],"range":["#96d4e4","#ff9090","#1f77b4","#808080"]},"legend":{"labelExpr":"datum.label=='a'?'Target-Only':datum.label=='b'?'Source-Only':datum.label=='c'?'LSTM-DANN':'RUL'"}},"strokeDash":{"field":"k","type":"nominal","title":null,"scale":{"domain":["a","b","c","d"],"range":[[1,0],[1,0],[3.5,1.5],[1,0]]},"legend":{"labelExpr":"datum.label=='a'?'Target-Only':datum.label=='b'?'Source-Only':datum.label=='c'?'LSTM-DANN':'RUL'"}}},"layer":[{"data":{"name":"t3"},"mark":"line"},{"data":{"name":"ph"},"mark":"line"}]},
{"width":248,"height":161,"title":{"text":"(i) Target: FD004"},"encoding":{"x":{"field":"x","type":"quantitative","title":"Number of cycles","scale":{"domain":[-7.15,150.15],"nice":false,"zero":false},"axis":{"values":[0,20,40,60,80,100,120,140],"format":"d"}},"y":{"field":"y","type":"quantitative","title":"Normalised RUL","scale":{"domain":[-0.071,1.051],"nice":false,"zero":false},"axis":{"values":[0,0.2,0.4,0.6,0.8,1],"format":".1f"}},"color":{"field":"k","type":"nominal","title":null,"scale":{"domain":["a","b","c","d"],"range":["#96d4e4","#ff9090","#1f77b4","#808080"]},"legend":{"labelExpr":"datum.label=='a'?'Target-Only':datum.label=='b'?'Source-Only':datum.label=='c'?'LSTM-DANN':'RUL'"}},"strokeDash":{"field":"k","type":"nominal","title":null,"scale":{"domain":["a","b","c","d"],"range":[[1,0],[1,0],[3.5,1.5],[1,0]]},"legend":{"labelExpr":"datum.label=='a'?'Target-Only':datum.label=='b'?'Source-Only':datum.label=='c'?'LSTM-DANN':'RUL'"}}},"layer":[{"data":{"name":"pi"},"mark":"line"}]}
]},
{"title":{"text":"Source: FD001","orient":"top","offset":5,"anchor":"middle","frame":"bounds"},"spacing":17,"resolve":{"scale":{"color":"independent","strokeDash":"independent"}},"hconcat":[
{"width":236,"height":153,"title":{"text":"(j) Target: FD002"},"encoding":{"x":{"field":"x","type":"quantitative","title":"Number of cycles","scale":{"domain":[-12.85,269.85],"nice":false,"zero":false},"axis":{"values":[0,50,100,150,200,250],"format":"d"}},"y":{"field":"y","type":"quantitative","title":"Normalised RUL","scale":{"domain":[-0.25,1.06],"nice":false,"zero":false},"axis":{"values":[-0.2,0,0.2,0.4,0.6,0.8,1],"format":".1f"}},"color":{"field":"k","type":"nominal","title":null,"scale":{"domain":["a","b","c","d"],"range":["#96d4e4","#ff9090","#1f77b4","#808080"]},"legend":{"labelExpr":"datum.label=='a'?'Target-Only':datum.label=='b'?'Source-Only':datum.label=='c'?'LSTM-DANN':'RUL'"}},"strokeDash":{"field":"k","type":"nominal","title":null,"scale":{"domain":["a","b","c","d"],"range":[[1,0],[1,0],[3.5,1.5],[1,0]]},"legend":{"labelExpr":"datum.label=='a'?'Target-Only':datum.label=='b'?'Source-Only':datum.label=='c'?'LSTM-DANN':'RUL'"}}},"layer":[{"data":{"name":"t2"},"mark":"line"},{"data":{"name":"pj"},"mark":"line"}]},
{"width":236,"height":153,"title":{"text":"(k) Target: FD003"},"encoding":{"x":{"field":"x","type":"quantitative","title":"Number of cycles","scale":{"domain":[-6.05,127.05],"nice":false,"zero":false},"axis":{"values":[0,20,40,60,80,100,120],"format":"d"}},"y":{"field":"y","type":"quantitative","title":"Normalised RUL","scale":{"domain":[-0.205,1.03],"nice":false,"zero":false},"axis":{"values":[-0.2,0,0.2,0.4,0.6,0.8,1],"format":".1f"}},"color":{"field":"k","type":"nominal","title":null,"scale":{"domain":["a","b","c","d"],"range":["#96d4e4","#ff9090","#1f77b4","#808080"]},"legend":{"labelExpr":"datum.label=='a'?'Target-Only':datum.label=='b'?'Source-Only':datum.label=='c'?'LSTM-DANN':'RUL'"}},"strokeDash":{"field":"k","type":"nominal","title":null,"scale":{"domain":["a","b","c","d"],"range":[[1,0],[1,0],[3.5,1.5],[1,0]]},"legend":{"labelExpr":"datum.label=='a'?'Target-Only':datum.label=='b'?'Source-Only':datum.label=='c'?'LSTM-DANN':'RUL'"}}},"layer":[{"data":{"name":"pk"},"mark":"line"}]},
{"width":236,"height":153,"title":{"text":"(l) Target: FD004"},"encoding":{"x":{"field":"x","type":"quantitative","title":"Number of cycles","scale":{"domain":[-7.8,163.8],"nice":false,"zero":false},"axis":{"values":[0,20,40,60,80,100,120,140,160],"format":"d"}},"y":{"field":"y","type":"quantitative","title":"Normalised RUL","scale":{"domain":[-0.218,1.058],"nice":false,"zero":false},"axis":{"values":[-0.2,0,0.2,0.4,0.6,0.8,1],"format":".1f"}},"color":{"field":"k","type":"nominal","title":null,"scale":{"domain":["a","b","c","d"],"range":["#96d4e4","#ff9090","#1f77b4","#808080"]},"legend":{"labelExpr":"datum.label=='a'?'Target-Only':datum.label=='b'?'Source-Only':datum.label=='c'?'LSTM-DANN':'RUL'"}},"strokeDash":{"field":"k","type":"nominal","title":null,"scale":{"domain":["a","b","c","d"],"range":[[1,0],[1,0],[3.5,1.5],[1,0]]},"legend":{"labelExpr":"datum.label=='a'?'Target-Only':datum.label=='b'?'Source-Only':datum.label=='c'?'LSTM-DANN':'RUL'"}}},"layer":[{"data":{"name":"pl"},"mark":"line"}]}
]}
]
}
